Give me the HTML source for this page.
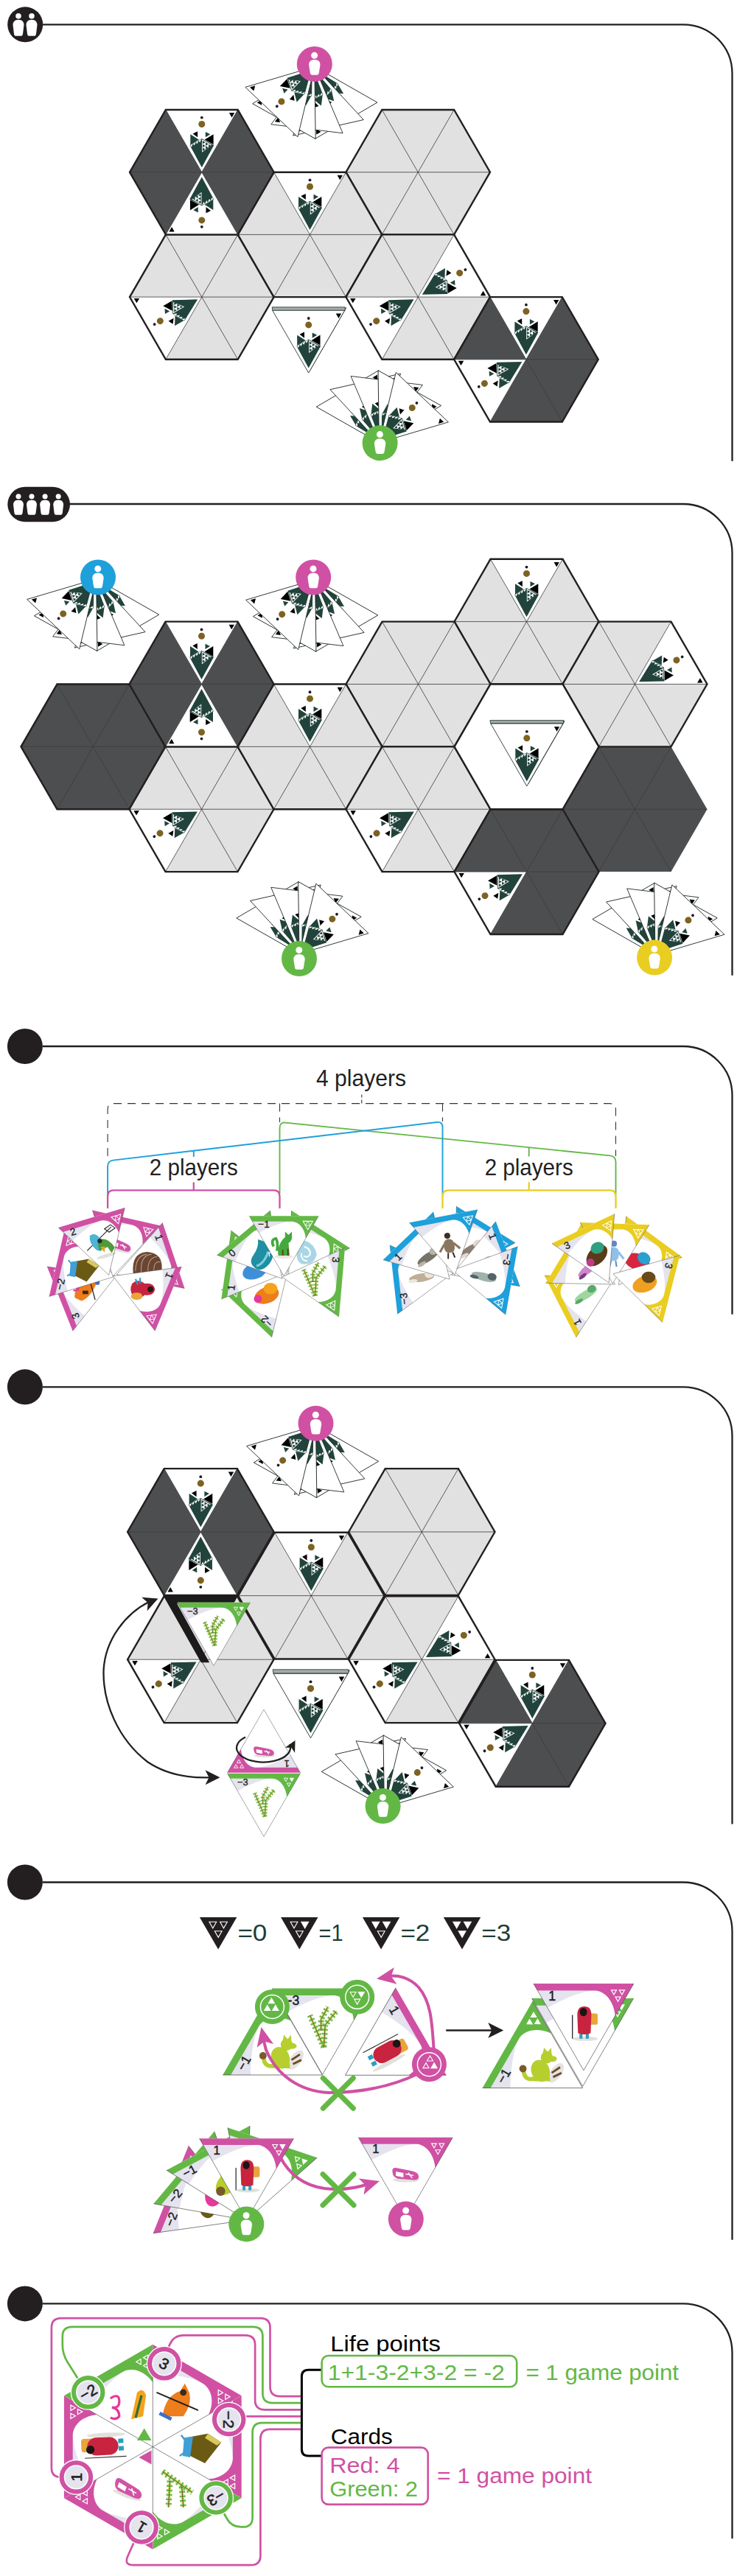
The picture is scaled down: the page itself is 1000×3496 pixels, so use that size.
<!DOCTYPE html>
<html><head><meta charset="utf-8"><title>Setup</title>
<style>html,body{margin:0;padding:0;background:#fff}body{width:1000px;height:3496px;overflow:hidden;font-family:"Liberation Sans",sans-serif}</style>
</head><body>
<svg width="1000" height="3496" viewBox="0 0 1000 3496" style="display:block;font-family:'Liberation Sans',sans-serif">
<defs>
<g id="cbp">
<circle cx="0" cy="-74.1" r="1.9" fill="#1b1b26"/>
<circle cx="0" cy="-65.2" r="4.5" fill="#7d6222"/>
<polygon points="-15.5,-51.4 -4,-44.1 -15.5,-37" fill="#21433b" />
<polygon points="5,-54.7 11.5,-51.4 5,-47.4" fill="#21433b" />
<polygon points="0,-45.6 16.5,-36.7 0,-6.5 -16.3,-36.7" fill="#21433b" />
<polygon points="-12.2,-52.3 -5.7,-55.5 -5.7,-47.4" fill="#000" />
<polygon points="3.8,-44.1 15.8,-51.5 15.8,-37.6" fill="#000" />
<polygon points="0.3,-44.6 13.4,-36.9 0.3,-27" fill="#fff" />
<polygon points="1.2,-42.8 4.8,-40.6 1.2,-38.4" fill="#21433b" />
<polygon points="1.2,-38 4.8,-35.8 1.2,-33.6" fill="#21433b" />
<polygon points="1.2,-33.2 4.8,-31 1.2,-28.8" fill="#21433b" />
<polygon points="5.2,-40.4 8.8,-38.2 5.2,-36" fill="#21433b" />
<polygon points="5.2,-35.6 8.8,-33.4 5.2,-31.2" fill="#21433b" />
<polygon points="9.2,-38 12.8,-35.8 9.2,-33.6" fill="#21433b" />
<polygon points="-15.6,-36.6 -11.8,-38.68 -14.1,-34.04" fill="#fff" />
<polygon points="-11.8,-38.68 -8,-40.75 -10.3,-36.11" fill="#fff" />
<polygon points="-8,-40.75 -4.2,-42.83 -6.5,-38.19" fill="#fff" />
<polygon points="-4.2,-42.83 -0.4,-44.9 -2.7,-40.26" fill="#fff" />
<polygon points="37.1,-80.7 44.4,-80.7 40.7,-74.2" fill="#000" />
</g>
<g id="cb"><polygon points="-49,-84.87 49,-84.87 0,0" fill="#fff" /><use href="#cbp"/></g>
<g id="cbs"><polygon points="-49,-84.87 49,-84.87 0,0" fill="#fff" stroke="#1f2925" stroke-width="0.85" stroke-linejoin="miter"/><use href="#cbp"/></g>
<g id="person" fill="#fff"><circle cx="-0.2" cy="-11.6" r="4.5"/><path d="M-3.6,-5.4 C-6,-4.6 -7.8,-2 -7.7,1 L-5.9,12.4 Q-5.6,14.8 -3.4,14.8 L3.4,14.8 Q5.6,14.8 5.9,12.4 L7.7,1 C7.8,-2 6,-4.6 3.6,-5.4 Q0,-6.4 -3.6,-5.4 Z"/></g>
<g id="sperson" fill="#fff"><circle cx="0" cy="-11.6" r="3.8"/><path d="M-3.4,-6 C-5.8,-5.2 -7.6,-2.6 -7.5,0.4 L-6,12.6 Q-5.7,15.4 -3.4,15.4 L3.4,15.4 Q5.7,15.4 6,12.6 L7.5,0.4 C7.6,-2.6 5.8,-5.2 3.4,-6 Q0,-7 -3.4,-6 Z"/></g>
</defs>
<path d="M58,33.3 H927 A66.5,66.5 0 0 1 993.5,99.8 V625.8" fill="none" stroke="#231f20" stroke-width="2.3"/>
<circle cx="34.2" cy="33.3" r="24" fill="#231f20"/>
<use href="#sperson" transform="translate(25,33.3)"/>
<use href="#sperson" transform="translate(43,33.3)"/>
<path d="M94,684 H927 A66.5,66.5 0 0 1 993.5,750.5 V1323.8" fill="none" stroke="#231f20" stroke-width="2.3"/>
<rect x="10.3" y="660.8" width="84.7" height="47.4" rx="23.7" fill="#231f20"/>
<use href="#sperson" transform="translate(25,684.5) scale(0.93)"/>
<use href="#sperson" transform="translate(43,684.5) scale(0.93)"/>
<use href="#sperson" transform="translate(61.1,684.5) scale(0.93)"/>
<use href="#sperson" transform="translate(79.2,684.5) scale(0.93)"/>
<path d="M58,1420 H927 A66.5,66.5 0 0 1 993.5,1486.5 V1783.7" fill="none" stroke="#231f20" stroke-width="2.3"/>
<circle cx="33.9" cy="1420" r="24" fill="#231f20"/>
<path d="M58,1882.3 H927 A66.5,66.5 0 0 1 993.5,1948.8 V2475.6" fill="none" stroke="#231f20" stroke-width="2.3"/>
<circle cx="33.9" cy="1882.3" r="24" fill="#231f20"/>
<path d="M58,2554.5 H927 A66.5,66.5 0 0 1 993.5,2621 V3039.7" fill="none" stroke="#231f20" stroke-width="2.3"/>
<circle cx="33.9" cy="2554.5" r="24" fill="#231f20"/>
<path d="M58,3126.4 H927 A66.5,66.5 0 0 1 993.5,3192.9 V3445.3" fill="none" stroke="#231f20" stroke-width="2.3"/>
<circle cx="33.9" cy="3126.4" r="24" fill="#231f20"/>
<g id="s1">
<use href="#cbs" transform="translate(426.8,90.5) rotate(149.7)"/>
<use href="#cbs" transform="translate(426.8,90.5) rotate(167.3)"/>
<use href="#cbs" transform="translate(426.8,90.5) rotate(187)"/>
<use href="#cbs" transform="translate(426.8,90.5) rotate(209.2)"/>
<use href="#cbs" transform="translate(426.8,90.5) rotate(223.5)"/>
<circle cx="426.8" cy="86.9" r="24" fill="#d051a3"/><use href="#person" transform="translate(426.8,86.9)"/>
<polygon points="665,233.7 616.1,318.4 518.3,318.4 469.4,233.7 518.3,149 616.1,149" fill="#e1e1e1" />
<path d="M665,233.7L469.4,233.7M616.1,318.4L518.3,149M518.3,318.4L616.1,149" stroke="#222" stroke-width="0.7" fill="none"/>
<polygon points="665,233.7 616.1,318.4 518.3,318.4 469.4,233.7 518.3,149 616.1,149" fill="none" stroke="#231f20" stroke-width="2.4" stroke-linejoin="miter"/>
<polygon points="371.6,403.09 322.7,487.79 224.9,487.79 176,403.09 224.9,318.4 322.7,318.4" fill="#e1e1e1" />
<use href="#cb" transform="translate(273.8,403.09) rotate(240) scale(1)"/>
<path d="M371.6,403.09L176,403.09M322.7,487.79L224.9,318.4M224.9,487.79L322.7,318.4" stroke="#222" stroke-width="0.7" fill="none"/>
<polygon points="371.6,403.09 322.7,487.79 224.9,487.79 176,403.09 224.9,318.4 322.7,318.4" fill="none" stroke="#231f20" stroke-width="2.4" stroke-linejoin="miter"/>
<polygon points="518.3,318.4 469.4,403.09 371.6,403.09 322.7,318.4 371.6,233.7 469.4,233.7" fill="#e1e1e1" />
<use href="#cb" transform="translate(420.5,318.4) rotate(0) scale(1)"/>
<path d="M518.3,318.4L322.7,318.4M469.4,403.09L371.6,233.7M371.6,403.09L469.4,233.7" stroke="#222" stroke-width="0.7" fill="none"/>
<polygon points="518.3,318.4 469.4,403.09 371.6,403.09 322.7,318.4 371.6,233.7 469.4,233.7" fill="none" stroke="#231f20" stroke-width="2.4" stroke-linejoin="miter"/>
<polygon points="665,403.09 616.1,487.79 518.3,487.79 469.4,403.09 518.3,318.4 616.1,318.4" fill="#e1e1e1" />
<use href="#cb" transform="translate(567.2,403.09) rotate(60) scale(1)"/>
<use href="#cb" transform="translate(567.2,403.09) rotate(240) scale(1)"/>
<path d="M665,403.09L469.4,403.09M616.1,487.79L518.3,318.4M518.3,487.79L616.1,318.4" stroke="#222" stroke-width="0.7" fill="none"/>
<polygon points="665,403.09 616.1,487.79 518.3,487.79 469.4,403.09 518.3,318.4 616.1,318.4" fill="none" stroke="#231f20" stroke-width="2.4" stroke-linejoin="miter"/>
<polygon points="811.7,487.79 762.8,572.49 665,572.49 616.1,487.79 665,403.09 762.8,403.09" fill="#4d4e50" />
<use href="#cb" transform="translate(713.9,487.79) rotate(0) scale(1)"/>
<use href="#cb" transform="translate(713.9,487.79) rotate(240) scale(1)"/>
<path d="M811.7,487.79L616.1,487.79M762.8,572.49L665,403.09M665,572.49L762.8,403.09" stroke="#3b3c3e" stroke-width="0.8" fill="none"/>
<polygon points="811.7,487.79 762.8,572.49 665,572.49 616.1,487.79 665,403.09 762.8,403.09" fill="none" stroke="#231f20" stroke-width="2.4" stroke-linejoin="miter"/>
<polygon points="371.6,233.7 322.7,318.4 224.9,318.4 176,233.7 224.9,149 322.7,149" fill="#4d4e50" />
<use href="#cb" transform="translate(273.8,233.7) rotate(0) scale(1)"/>
<use href="#cb" transform="translate(273.8,233.7) rotate(180) scale(1)"/>
<path d="M371.6,233.7L176,233.7M322.7,318.4L224.9,149M224.9,318.4L322.7,149" stroke="#3b3c3e" stroke-width="0.8" fill="none"/>
<polygon points="371.6,233.7 322.7,318.4 224.9,318.4 176,233.7 224.9,149 322.7,149" fill="none" stroke="#231f20" stroke-width="2.4" stroke-linejoin="miter"/>
<polygon points="371.9,417.8 469.7,417.8 420.8,502.32" fill="#fff" stroke="#26352f" stroke-width="0.9"/>
<polygon points="369.1,416.8 468.1,416.8 468.1,421.6 369.9,421.6" fill="#a3aba6" stroke="#26352f" stroke-width="0.8" stroke-linejoin="round"/>
<use href="#cbs" transform="translate(418.7,506.12) scale(1)"/>
<use href="#cbs" transform="translate(514.4,600.7) rotate(-30.3)"/>
<use href="#cbs" transform="translate(514.4,600.7) rotate(-12.7)"/>
<use href="#cbs" transform="translate(514.4,600.7) rotate(7)"/>
<use href="#cbs" transform="translate(514.4,600.7) rotate(29.2)"/>
<use href="#cbs" transform="translate(514.4,600.7) rotate(43.5)"/>
<circle cx="515.6" cy="601.2" r="24" fill="#63b845"/><use href="#person" transform="translate(515.6,601.2)"/>
</g>
<g id="s2">
<use href="#cbs" transform="translate(130.6,785.6) rotate(149.7)"/>
<use href="#cbs" transform="translate(130.6,785.6) rotate(167.3)"/>
<use href="#cbs" transform="translate(130.6,785.6) rotate(187)"/>
<use href="#cbs" transform="translate(130.6,785.6) rotate(209.2)"/>
<use href="#cbs" transform="translate(130.6,785.6) rotate(223.5)"/>
<circle cx="133" cy="783.5" r="24" fill="#1ea0db"/><use href="#person" transform="translate(133,783.5)"/>
<use href="#cbs" transform="translate(427.6,786.4) rotate(149.7)"/>
<use href="#cbs" transform="translate(427.6,786.4) rotate(167.3)"/>
<use href="#cbs" transform="translate(427.6,786.4) rotate(187)"/>
<use href="#cbs" transform="translate(427.6,786.4) rotate(209.2)"/>
<use href="#cbs" transform="translate(427.6,786.4) rotate(223.5)"/>
<circle cx="425.2" cy="783.5" r="24" fill="#d051a3"/><use href="#person" transform="translate(425.2,783.5)"/>
<polygon points="959.5,1098.24 910.5,1183.11 812.5,1183.11 763.5,1098.24 812.5,1013.37 910.5,1013.37" fill="#4d4e50" />
<path d="M959.5,1098.24L763.5,1098.24M910.5,1183.11L812.5,1013.37M812.5,1183.11L910.5,1013.37" stroke="#3b3c3e" stroke-width="0.8" fill="none"/>
<polygon points="224.5,1013.37 175.5,1098.24 77.5,1098.24 28.5,1013.37 77.5,928.5 175.5,928.5" fill="#4d4e50" />
<path d="M224.5,1013.37L28.5,1013.37M175.5,1098.24L77.5,928.5M77.5,1098.24L175.5,928.5" stroke="#3b3c3e" stroke-width="0.8" fill="none"/>
<polygon points="224.5,1013.37 175.5,1098.24 77.5,1098.24 28.5,1013.37 77.5,928.5 175.5,928.5" fill="none" stroke="#231f20" stroke-width="2.4" stroke-linejoin="miter"/>
<polygon points="812.5,843.63 763.5,928.5 665.5,928.5 616.5,843.63 665.5,758.76 763.5,758.76" fill="#e1e1e1" />
<use href="#cb" transform="translate(714.5,843.63) rotate(0) scale(1)"/>
<path d="M812.5,843.63L616.5,843.63M763.5,928.5L665.5,758.76M665.5,928.5L763.5,758.76" stroke="#222" stroke-width="0.7" fill="none"/>
<polygon points="812.5,843.63 763.5,928.5 665.5,928.5 616.5,843.63 665.5,758.76 763.5,758.76" fill="none" stroke="#231f20" stroke-width="2.4" stroke-linejoin="miter"/>
<polygon points="959.5,928.5 910.5,1013.37 812.5,1013.37 763.5,928.5 812.5,843.63 910.5,843.63" fill="#e1e1e1" />
<use href="#cb" transform="translate(861.5,928.5) rotate(60) scale(1)"/>
<path d="M959.5,928.5L763.5,928.5M910.5,1013.37L812.5,843.63M812.5,1013.37L910.5,843.63" stroke="#222" stroke-width="0.7" fill="none"/>
<polygon points="959.5,928.5 910.5,1013.37 812.5,1013.37 763.5,928.5 812.5,843.63 910.5,843.63" fill="none" stroke="#231f20" stroke-width="2.4" stroke-linejoin="miter"/>
<polygon points="665.5,928.5 616.5,1013.37 518.5,1013.37 469.5,928.5 518.5,843.63 616.5,843.63" fill="#e1e1e1" />
<path d="M665.5,928.5L469.5,928.5M616.5,1013.37L518.5,843.63M518.5,1013.37L616.5,843.63" stroke="#222" stroke-width="0.7" fill="none"/>
<polygon points="665.5,928.5 616.5,1013.37 518.5,1013.37 469.5,928.5 518.5,843.63 616.5,843.63" fill="none" stroke="#231f20" stroke-width="2.4" stroke-linejoin="miter"/>
<polygon points="371.5,1098.24 322.5,1183.11 224.5,1183.11 175.5,1098.24 224.5,1013.37 322.5,1013.37" fill="#e1e1e1" />
<use href="#cb" transform="translate(273.5,1098.24) rotate(240) scale(1)"/>
<path d="M371.5,1098.24L175.5,1098.24M322.5,1183.11L224.5,1013.37M224.5,1183.11L322.5,1013.37" stroke="#222" stroke-width="0.7" fill="none"/>
<polygon points="371.5,1098.24 322.5,1183.11 224.5,1183.11 175.5,1098.24 224.5,1013.37 322.5,1013.37" fill="none" stroke="#231f20" stroke-width="2.4" stroke-linejoin="miter"/>
<polygon points="518.5,1013.37 469.5,1098.24 371.5,1098.24 322.5,1013.37 371.5,928.5 469.5,928.5" fill="#e1e1e1" />
<use href="#cb" transform="translate(420.5,1013.37) rotate(0) scale(1)"/>
<path d="M518.5,1013.37L322.5,1013.37M469.5,1098.24L371.5,928.5M371.5,1098.24L469.5,928.5" stroke="#222" stroke-width="0.7" fill="none"/>
<polygon points="518.5,1013.37 469.5,1098.24 371.5,1098.24 322.5,1013.37 371.5,928.5 469.5,928.5" fill="none" stroke="#231f20" stroke-width="2.4" stroke-linejoin="miter"/>
<polygon points="665.5,1098.24 616.5,1183.11 518.5,1183.11 469.5,1098.24 518.5,1013.37 616.5,1013.37" fill="#e1e1e1" />
<use href="#cb" transform="translate(567.5,1098.24) rotate(240) scale(1)"/>
<path d="M665.5,1098.24L469.5,1098.24M616.5,1183.11L518.5,1013.37M518.5,1183.11L616.5,1013.37" stroke="#222" stroke-width="0.7" fill="none"/>
<polygon points="665.5,1098.24 616.5,1183.11 518.5,1183.11 469.5,1098.24 518.5,1013.37 616.5,1013.37" fill="none" stroke="#231f20" stroke-width="2.4" stroke-linejoin="miter"/>
<polygon points="812.5,1183.11 763.5,1267.98 665.5,1267.98 616.5,1183.11 665.5,1098.24 763.5,1098.24" fill="#4d4e50" />
<use href="#cb" transform="translate(714.5,1183.11) rotate(240) scale(1)"/>
<path d="M812.5,1183.11L616.5,1183.11M763.5,1267.98L665.5,1098.24M665.5,1267.98L763.5,1098.24" stroke="#3b3c3e" stroke-width="0.8" fill="none"/>
<polygon points="812.5,1183.11 763.5,1267.98 665.5,1267.98 616.5,1183.11 665.5,1098.24 763.5,1098.24" fill="none" stroke="#231f20" stroke-width="2.4" stroke-linejoin="miter"/>
<polygon points="371.5,928.5 322.5,1013.37 224.5,1013.37 175.5,928.5 224.5,843.63 322.5,843.63" fill="#4d4e50" />
<use href="#cb" transform="translate(273.5,928.5) rotate(0) scale(1)"/>
<use href="#cb" transform="translate(273.5,928.5) rotate(180) scale(1)"/>
<path d="M371.5,928.5L175.5,928.5M322.5,1013.37L224.5,843.63M224.5,1013.37L322.5,843.63" stroke="#3b3c3e" stroke-width="0.8" fill="none"/>
<polygon points="371.5,928.5 322.5,1013.37 224.5,1013.37 175.5,928.5 224.5,843.63 322.5,843.63" fill="none" stroke="#231f20" stroke-width="2.4" stroke-linejoin="miter"/>
<polygon points="812.5,1013.37 763.5,1098.24 665.5,1098.24 616.5,1013.37 665.5,928.5 763.5,928.5" fill="#fff" />
<polygon points="812.5,1013.37 763.5,1098.24 665.5,1098.24 616.5,1013.37 665.5,928.5 763.5,928.5" fill="none" stroke="#231f20" stroke-width="2.4" stroke-linejoin="miter"/>
<polygon points="667.65,978.57 766.15,978.57 716.9,1063.7" fill="#fff" stroke="#26352f" stroke-width="0.9"/>
<polygon points="664.85,977.57 764.55,977.57 764.55,981.77 665.65,981.77" fill="#a3aba6" stroke="#26352f" stroke-width="0.8" stroke-linejoin="round"/>
<use href="#cbs" transform="translate(714.8,1066.9) scale(1)"/>
<use href="#cbs" transform="translate(406,1294.5) rotate(-30.3)"/>
<use href="#cbs" transform="translate(406,1294.5) rotate(-12.7)"/>
<use href="#cbs" transform="translate(406,1294.5) rotate(7)"/>
<use href="#cbs" transform="translate(406,1294.5) rotate(29.2)"/>
<use href="#cbs" transform="translate(406,1294.5) rotate(43.5)"/>
<circle cx="406" cy="1301" r="24" fill="#63b845"/><use href="#person" transform="translate(406,1301)"/>
<use href="#cbs" transform="translate(889,1296.1) rotate(-30.3)"/>
<use href="#cbs" transform="translate(889,1296.1) rotate(-12.7)"/>
<use href="#cbs" transform="translate(889,1296.1) rotate(7)"/>
<use href="#cbs" transform="translate(889,1296.1) rotate(29.2)"/>
<use href="#cbs" transform="translate(889,1296.1) rotate(43.5)"/>
<circle cx="888.1" cy="1299.6" r="24" fill="#e9cd20"/><use href="#person" transform="translate(888.1,1299.6)"/>
</g>
<g id="s3">
<path d="M146.1,1569 V1505.6 Q146.1,1497.6 154.1,1497.6 H827.5 Q835.5,1497.6 835.5,1505.6 V1569 M379.5,1497.6 V1523 M600.5,1497.6 V1522" fill="none" stroke="#333" stroke-width="1.1" stroke-dasharray="11 8"/>
<path d="M490.8,1497.6 V1485.5" stroke="#333" stroke-width="1.1" stroke-dasharray="5 3"/>
<path d="M379.5,1620 V1531 Q379.5,1523 387,1523.6 L828,1568.4 Q835.5,1569.3 835.5,1577 V1622 M717.7,1557.2 V1569.5" fill="none" stroke="#63b845" stroke-width="1.9"/>
<path d="M146.1,1626 V1583 Q146.1,1575.6 153.5,1574.6 L593,1523 Q600.5,1522 600.5,1530 V1622 M262.8,1561.4 V1570" fill="none" stroke="#1ea0db" stroke-width="1.9"/>
<path d="M146.1,1640 V1623.5 Q146.1,1615.4 154.1,1615.4 H371.5 Q379.5,1615.4 379.5,1623.5 V1640 M262.8,1615.4 V1604.5" fill="none" stroke="#d051a3" stroke-width="2.3"/>
<path d="M600.5,1640 V1623.5 Q600.5,1615.4 608.5,1615.4 H827.5 Q835.5,1615.4 835.5,1623.5 V1640 M717.7,1615.4 V1604.5" fill="none" stroke="#e9cd20" stroke-width="2.3"/>
<text x="490" y="1474.3" font-size="30.5" text-anchor="middle" fill="#231f20" textLength="122" lengthAdjust="spacingAndGlyphs">4 players</text>
<text x="262.8" y="1594.8" font-size="30.5" text-anchor="middle" fill="#231f20" textLength="120" lengthAdjust="spacingAndGlyphs">2 players</text>
<text x="717.7" y="1594.8" font-size="30.5" text-anchor="middle" fill="#231f20" textLength="120" lengthAdjust="spacingAndGlyphs">2 players</text>
<g transform="translate(156.87,1732.54) rotate(-111.7) scale(0.94)"><polygon points="-50,-86.6 50,-86.6 0,0" fill="#fff" /><path d="M-45.38,-78.6 L-36.1,-62.5 Q-5,-78.6 12,-78.6 Z" fill="#e4e3ee"/><g transform="translate(0,-46) rotate(111.7) scale(1.65)"><path d="M-10,8 Q-10,-4 0,-8 Q8,-10 9,-4 Q4,8 -4,11 Z" fill="#ee7d1c"/><path d="M-12,-2 L-6,0 M-11,2 L-6,1" stroke="#e6399b" stroke-width="1.6"/><path d="M2,-12 L8,10" stroke="#222" stroke-width="0.8"/><circle cx="10" cy="-5" r="2" fill="#3f6fc8"/><rect x="-3" y="2" width="5" height="3" fill="#3a2a1a"/></g><path d="M-50,-86.6 L50,-86.6 L31.5,-54.6 C30,-68.6 22,-77.6 12,-78.6 L-45.38,-78.6 Z" fill="#d051a3"/><polygon points="27.5,-79.1 41.5,-79.1 34.5,-67" fill="none" stroke="#fff" stroke-width="1.1"/><polygon points="34.5,-79.1 38,-73.05 31,-73.05" fill="none" stroke="#fff" stroke-width="1"/><path d="M-50,-86.6 L0,0 L50,-86.6" fill="none" stroke="#3a3a3a" stroke-width="0.45"/><text x="-31.5" y="-69.8" font-size="14.5" text-anchor="middle" fill="#231f20" stroke="#231f20" stroke-width="0.35">3</text></g><g transform="translate(156.57,1732.07) rotate(-77) scale(0.94)"><polygon points="-50,-86.6 50,-86.6 0,0" fill="#fff" /><path d="M-45.38,-78.6 L-36.1,-62.5 Q-5,-78.6 12,-78.6 Z" fill="#e4e3ee"/><g transform="translate(0,-46) rotate(77) scale(1.65)"><path d="M-12,-6 L4,-9 L13,-3 L2,11 L-10,5 Z" fill="#6b5a14"/><path d="M-12,-6 L-13,6 L-8,7 L-6,-7 Z" fill="#3f9fd8"/><path d="M4,-9 L13,-3 L10,-1 L2,-6 Z" fill="#d9c85a"/><path d="M-14,-8 L-11,-4 M-15,6 L-12,4" stroke="#3f9fd8" stroke-width="1.2"/></g><path d="M-50,-86.6 L50,-86.6 L31.5,-54.6 C30,-68.6 22,-77.6 12,-78.6 L-45.38,-78.6 Z" fill="#d051a3"/><polygon points="27.5,-79.1 41.5,-79.1 34.5,-67" fill="none" stroke="#fff" stroke-width="1.1"/><polygon points="34.5,-79.1 38,-73.05 31,-73.05" fill="none" stroke="#fff" stroke-width="1"/><path d="M-50,-86.6 L0,0 L50,-86.6" fill="none" stroke="#3a3a3a" stroke-width="0.45"/><text x="-29" y="-69.8" font-size="14.5" text-anchor="middle" fill="#231f20" stroke="#231f20" stroke-width="0.35">−2</text></g><g transform="translate(153.09,1732.22) rotate(12.9) scale(0.94)"><polygon points="-50,-86.6 50,-86.6 0,0" fill="#fff" /><path d="M-45.38,-78.6 L-36.1,-62.5 Q-5,-78.6 12,-78.6 Z" fill="#e4e3ee"/><g transform="translate(0,-46) rotate(0) scale(1.65)"><ellipse cx="0.5" cy="4" rx="10" ry="1.6" fill="#e2e0dc"/><path d="M-10,-3 Q-10,-6 -6,-5 L4,-3 Q10,-2 10,1.5 Q10,4 6,4 L-6,3 Q-10,2 -10,-3 Z" fill="#d153a5"/><path d="M-7,-2 L-2,-1 L-2,1.5 L-7,0.5 Z M0,-0.5 L6,0.5 M2,-1.5 L5,2.5" fill="#fff" stroke="#fff" stroke-width="0.8"/></g><path d="M-50,-86.6 L50,-86.6 L31.5,-54.6 C30,-68.6 22,-77.6 12,-78.6 L-45.38,-78.6 Z" fill="#d051a3"/><polygon points="27.5,-79.1 41.5,-79.1 34.5,-67" fill="none" stroke="#fff" stroke-width="1.1"/><polygon points="34.5,-79.1 38,-73.05 31,-73.05" fill="none" stroke="#fff" stroke-width="1"/><path d="M-50,-86.6 L0,0 L50,-86.6" fill="none" stroke="#3a3a3a" stroke-width="0.45"/></g><g transform="translate(147.67,1730.51) rotate(-16.7) scale(0.94)"><polygon points="-50,-86.6 50,-86.6 0,0" fill="#fff" /><path d="M-45.38,-78.6 L-36.1,-62.5 Q-5,-78.6 12,-78.6 Z" fill="#e4e3ee"/><g transform="translate(0,-46) rotate(0) scale(1.65)"><path d="M-12,2 L14,-12 M8,-12 L14,-14 L17,-10 L11,-8 Z" stroke="#222" stroke-width="0.7" fill="none"/><path d="M-6,-10 Q-9,-4 -4,4 L0,6 L2,-4 Q0,-12 -6,-10 Z" fill="#4db4d6"/><path d="M-1,-4 Q8,-6 12,6 L8,10 L6,4 L-2,5 Z" fill="#4e9a3c"/><path d="M0,2 L4,3 L2,8 Z" fill="#e8a020"/><circle cx="1" cy="-3" r="2" fill="#1c2b2b"/><ellipse cx="3" cy="11" rx="9" ry="1.6" fill="#e2e0dc"/></g><path d="M-50,-86.6 L50,-86.6 L31.5,-54.6 C30,-68.6 22,-77.6 12,-78.6 L-45.38,-78.6 Z" fill="#d051a3"/><polygon points="27.5,-79.1 41.5,-79.1 34.5,-67" fill="none" stroke="#fff" stroke-width="1.1"/><polygon points="34.5,-79.1 38,-73.05 31,-73.05" fill="none" stroke="#fff" stroke-width="1"/><path d="M-50,-86.6 L0,0 L50,-86.6" fill="none" stroke="#3a3a3a" stroke-width="0.45"/><text x="-31.5" y="-69.8" font-size="14.5" text-anchor="middle" fill="#231f20" stroke="#231f20" stroke-width="0.35">2</text></g><g transform="translate(158.38,1729.78) rotate(71.5) scale(0.94)"><polygon points="-50,-86.6 50,-86.6 0,0" fill="#fff" /><path d="M-45.38,-78.6 L-36.1,-62.5 Q-5,-78.6 12,-78.6 Z" fill="#e4e3ee"/><g transform="translate(0,-46) rotate(-71.5) scale(1.65)"><path d="M-12,8 Q-14,-10 0,-11 Q14,-10 13,4 Q8,10 -12,8 Z" fill="#6a4632"/><path d="M-10,6 Q-10,-8 0,-9 M-5,7 Q-6,-8 4,-9 M1,7 Q0,-6 9,-7 M6,6 Q6,-4 12,-2" stroke="#b89a86" stroke-width="0.7" fill="none"/></g><path d="M-50,-86.6 L50,-86.6 L31.5,-54.6 C30,-68.6 22,-77.6 12,-78.6 L-45.38,-78.6 Z" fill="#d051a3"/><polygon points="27.5,-79.1 41.5,-79.1 34.5,-67" fill="none" stroke="#fff" stroke-width="1.1"/><polygon points="34.5,-79.1 38,-73.05 31,-73.05" fill="none" stroke="#fff" stroke-width="1"/><path d="M-50,-86.6 L0,0 L50,-86.6" fill="none" stroke="#3a3a3a" stroke-width="0.45"/><text x="-31.5" y="-69.8" font-size="14.5" text-anchor="middle" fill="#231f20" stroke="#231f20" stroke-width="0.35">1</text></g><g transform="translate(153.31,1731.73) rotate(112.5) scale(0.94)"><polygon points="-50,-86.6 50,-86.6 0,0" fill="#fff" /><path d="M-45.38,-78.6 L-36.1,-62.5 Q-5,-78.6 12,-78.6 Z" fill="#e4e3ee"/><g transform="translate(0,-46) rotate(-112.5) scale(1.65)"><path d="M-9,-4 Q-4,-9 2,-4 Q10,-5 11,1 Q10,7 2,6 Q-2,10 -8,7 Q-12,2 -9,-4 Z" fill="#c8243f"/><ellipse cx="-5" cy="7" rx="5" ry="3.2" fill="#e9a43b"/><circle cx="7" cy="1" r="2.6" fill="#2a1a1a"/><path d="M-6,-8 L-4,-3 M-2,-9 L-2,-4" stroke="#2a9fc0" stroke-width="1.4"/></g><path d="M-50,-86.6 L50,-86.6 L31.5,-54.6 C30,-68.6 22,-77.6 12,-78.6 L-45.38,-78.6 Z" fill="#d051a3"/><polygon points="27.5,-79.1 41.5,-79.1 34.5,-67" fill="none" stroke="#fff" stroke-width="1.1"/><polygon points="34.5,-79.1 38,-73.05 31,-73.05" fill="none" stroke="#fff" stroke-width="1"/><path d="M-50,-86.6 L0,0 L50,-86.6" fill="none" stroke="#3a3a3a" stroke-width="0.45"/><text x="-31.5" y="-69.8" font-size="14.5" text-anchor="middle" fill="#231f20" stroke="#231f20" stroke-width="0.35">1</text></g>
<g transform="translate(390.56,1723.61) rotate(-136.5) scale(0.94)"><polygon points="-50,-86.6 50,-86.6 0,0" fill="#fff" /><path d="M-45.38,-78.6 L-36.1,-62.5 Q-5,-78.6 12,-78.6 Z" fill="#e4e3ee"/><g transform="translate(0,-46) rotate(136.5) scale(1.65)"><ellipse cx="0" cy="2" rx="11" ry="7" fill="#ee7d1c" transform="rotate(-20)"/><ellipse cx="4" cy="-4" rx="6" ry="5" fill="#f5a21c"/><circle cx="-7" cy="5" r="3.5" fill="#e6399b"/></g><path d="M-50,-86.6 L50,-86.6 L31.5,-54.6 C30,-68.6 22,-77.6 12,-78.6 L-45.38,-78.6 Z" fill="#63b845"/><polygon points="27.5,-79.1 41.5,-79.1 34.5,-67" fill="none" stroke="#fff" stroke-width="1.1"/><polygon points="34.5,-79.1 38,-73.05 31,-73.05" fill="none" stroke="#fff" stroke-width="1"/><path d="M-50,-86.6 L0,0 L50,-86.6" fill="none" stroke="#3a3a3a" stroke-width="0.45"/><text x="-29" y="-69.8" font-size="14.5" text-anchor="middle" fill="#231f20" stroke="#231f20" stroke-width="0.35">−2</text></g><g transform="translate(387.52,1727.9) rotate(-82) scale(0.94)"><polygon points="-50,-86.6 50,-86.6 0,0" fill="#fff" /><path d="M-45.38,-78.6 L-36.1,-62.5 Q-5,-78.6 12,-78.6 Z" fill="#e4e3ee"/><g transform="translate(0,-46) rotate(82) scale(1.65)"><ellipse cx="0" cy="2" rx="11" ry="7" fill="#3f8fd8" transform="rotate(-20)"/><ellipse cx="4" cy="-4" rx="6" ry="5" fill="#7fc4e8"/></g><path d="M-50,-86.6 L50,-86.6 L31.5,-54.6 C30,-68.6 22,-77.6 12,-78.6 L-45.38,-78.6 Z" fill="#63b845"/><polygon points="27.5,-79.1 41.5,-79.1 34.5,-67" fill="none" stroke="#fff" stroke-width="1.1"/><polygon points="34.5,-79.1 38,-73.05 31,-73.05" fill="none" stroke="#fff" stroke-width="1"/><path d="M-50,-86.6 L0,0 L50,-86.6" fill="none" stroke="#3a3a3a" stroke-width="0.45"/><text x="-31.5" y="-69.8" font-size="14.5" text-anchor="middle" fill="#231f20" stroke="#231f20" stroke-width="0.35">1</text></g><g transform="translate(382.7,1735.32) rotate(-40) scale(0.94)"><polygon points="-50,-86.6 50,-86.6 0,0" fill="#fff" /><path d="M-45.38,-78.6 L-36.1,-62.5 Q-5,-78.6 12,-78.6 Z" fill="#e4e3ee"/><g transform="translate(0,-46) rotate(0) scale(1.65)"><path d="M-12,6 Q-14,-2 -6,-4 Q2,-6 6,-12 Q12,-4 10,4 Q4,12 -6,11 Q-11,10 -12,6 Z" fill="#1f8fa3"/><path d="M-10,5 Q-4,8 6,2" stroke="#7fd0dc" stroke-width="2" fill="none"/><path d="M4,6 L6,3 L8,6 L10,3" stroke="#fff" stroke-width="0.8" fill="none"/></g><path d="M-50,-86.6 L50,-86.6 L31.5,-54.6 C30,-68.6 22,-77.6 12,-78.6 L-45.38,-78.6 Z" fill="#63b845"/><polygon points="27.5,-79.1 41.5,-79.1 34.5,-67" fill="none" stroke="#fff" stroke-width="1.1"/><polygon points="34.5,-79.1 38,-73.05 31,-73.05" fill="none" stroke="#fff" stroke-width="1"/><path d="M-50,-86.6 L0,0 L50,-86.6" fill="none" stroke="#3a3a3a" stroke-width="0.45"/><text x="-31.5" y="-69.8" font-size="14.5" text-anchor="middle" fill="#231f20" stroke="#231f20" stroke-width="0.35">0</text></g><g transform="translate(391.31,1737) rotate(32.6) scale(0.94)"><polygon points="-50,-86.6 50,-86.6 0,0" fill="#fff" /><path d="M-45.38,-78.6 L-36.1,-62.5 Q-5,-78.6 12,-78.6 Z" fill="#e4e3ee"/><g transform="translate(0,-46) rotate(0) scale(1.65)"><path d="M-9,-8 Q2,-12 9,-4 Q12,6 2,10 Q-8,10 -9,-8 Z" fill="#a9d6e6"/><path d="M-4,-4 Q2,-6 4,-1 Q4,3 0,3 M-3,2 Q0,8 5,5" stroke="#fff" stroke-width="1.2" fill="none"/></g><path d="M-50,-86.6 L50,-86.6 L31.5,-54.6 C30,-68.6 22,-77.6 12,-78.6 L-45.38,-78.6 Z" fill="#63b845"/><polygon points="27.5,-79.1 41.5,-79.1 34.5,-67" fill="none" stroke="#fff" stroke-width="1.1"/><polygon points="34.5,-79.1 38,-73.05 31,-73.05" fill="none" stroke="#fff" stroke-width="1"/><path d="M-50,-86.6 L0,0 L50,-86.6" fill="none" stroke="#3a3a3a" stroke-width="0.45"/></g><g transform="translate(382.92,1733.19) rotate(94.9) scale(0.94)"><polygon points="-50,-86.6 50,-86.6 0,0" fill="#fff" /><path d="M-45.38,-78.6 L-36.1,-62.5 Q-5,-78.6 12,-78.6 Z" fill="#e4e3ee"/><g transform="translate(0,-46) rotate(-94.9) scale(1.65)"><path d="M1,14 L-9,-9" stroke="#6dbb45" stroke-width="4.2" stroke-dasharray="1.3 1.7" fill="none"/><path d="M1,14 L-9,-9" stroke="#c9d84a" stroke-width="2" stroke-dasharray="1.3 1.7" stroke-dashoffset="1.5" fill="none"/><path d="M1,14 L-9,-9" stroke="#6a4a2a" stroke-width="0.5" fill="none"/><path d="M1,14 L2,-2 L10,-12" stroke="#6dbb45" stroke-width="4.2" stroke-dasharray="1.3 1.7" fill="none"/><path d="M1,14 L2,-2 L10,-12" stroke="#c9d84a" stroke-width="2" stroke-dasharray="1.3 1.7" stroke-dashoffset="1.5" fill="none"/><path d="M1,14 L2,-2 L10,-12" stroke="#6a4a2a" stroke-width="0.5" fill="none"/><path d="M-1,2 L-1,-6 L4,-15" stroke="#6dbb45" stroke-width="4.2" stroke-dasharray="1.3 1.7" fill="none"/><path d="M-1,2 L-1,-6 L4,-15" stroke="#c9d84a" stroke-width="2" stroke-dasharray="1.3 1.7" stroke-dashoffset="1.5" fill="none"/><path d="M-1,2 L-1,-6 L4,-15" stroke="#6a4a2a" stroke-width="0.5" fill="none"/></g><path d="M-50,-86.6 L50,-86.6 L31.5,-54.6 C30,-68.6 22,-77.6 12,-78.6 L-45.38,-78.6 Z" fill="#63b845"/><polygon points="27.5,-79.1 41.5,-79.1 34.5,-67" fill="none" stroke="#fff" stroke-width="1.1"/><polygon points="34.5,-79.1 38,-73.05 31,-73.05" fill="none" stroke="#fff" stroke-width="1"/><path d="M-50,-86.6 L0,0 L50,-86.6" fill="none" stroke="#3a3a3a" stroke-width="0.45"/><text x="-31.5" y="-69.8" font-size="14.5" text-anchor="middle" fill="#231f20" stroke="#231f20" stroke-width="0.35">3</text></g><g transform="translate(385.25,1731.74) rotate(0) scale(0.94)"><polygon points="-50,-86.6 50,-86.6 0,0" fill="#fff" /><path d="M-45.38,-78.6 L-36.1,-62.5 Q-5,-78.6 12,-78.6 Z" fill="#e4e3ee"/><g transform="translate(0,-46) rotate(0) scale(1.65)"><ellipse cx="0" cy="11" rx="8" ry="1.6" fill="#ece6e2"/><path d="M-9,2 Q-12,-4 -7,-5 Q-5,-2 -6,6" stroke="#44a83e" stroke-width="2.4" fill="none"/><path d="M-5,10 C-6,2 -2,-4 1,-6 L1,-11 L4,-8 L7,-11 L7,-5 Q6,-2 4,-1 L5,10 Z" fill="#44a83e"/><path d="M-1,10 L-1,5 M3.5,10 L3.5,4" stroke="#6a3a1a" stroke-width="1.2"/></g><path d="M-50,-86.6 L50,-86.6 L31.5,-54.6 C30,-68.6 22,-77.6 12,-78.6 L-45.38,-78.6 Z" fill="#63b845"/><polygon points="27.5,-79.1 41.5,-79.1 34.5,-67" fill="none" stroke="#fff" stroke-width="1.1"/><polygon points="34.5,-79.1 38,-73.05 31,-73.05" fill="none" stroke="#fff" stroke-width="1"/><path d="M-50,-86.6 L0,0 L50,-86.6" fill="none" stroke="#3a3a3a" stroke-width="0.45"/><text x="-29" y="-69.8" font-size="14.5" text-anchor="middle" fill="#231f20" stroke="#231f20" stroke-width="0.35">−1</text></g>
<g transform="translate(614.86,1727.52) rotate(-96.4) scale(0.94)"><polygon points="-50,-86.6 50,-86.6 0,0" fill="#fff" /><path d="M-45.38,-78.6 L-36.1,-62.5 Q-5,-78.6 12,-78.6 Z" fill="#e4e3ee"/><g transform="translate(0,-46) rotate(96.4) scale(1.65)"><g transform="rotate(-8)"><ellipse cx="0" cy="1" rx="11" ry="3.6" fill="#bfae98"/><ellipse cx="7" cy="-1" rx="4" ry="3.2" fill="#ece6da"/><ellipse cx="-8" cy="3" rx="4" ry="1.6" fill="#ece6da"/></g></g><path d="M-50,-86.6 L50,-86.6 L31.5,-54.6 C30,-68.6 22,-77.6 12,-78.6 L-45.38,-78.6 Z" fill="#1ea0db"/><polygon points="27.5,-79.1 41.5,-79.1 34.5,-67" fill="none" stroke="#fff" stroke-width="1.1"/><polygon points="34.5,-79.1 38,-73.05 31,-73.05" fill="none" stroke="#fff" stroke-width="1"/><path d="M-50,-86.6 L0,0 L50,-86.6" fill="none" stroke="#3a3a3a" stroke-width="0.45"/><text x="-29" y="-69.8" font-size="14.5" text-anchor="middle" fill="#231f20" stroke="#231f20" stroke-width="0.35">−3</text></g><g transform="translate(610.1,1736.12) rotate(-43.7) scale(0.94)"><polygon points="-50,-86.6 50,-86.6 0,0" fill="#fff" /><path d="M-45.38,-78.6 L-36.1,-62.5 Q-5,-78.6 12,-78.6 Z" fill="#e4e3ee"/><g transform="translate(0,-46) rotate(0) scale(1.65)"><g transform="rotate(10)"><ellipse cx="0" cy="1" rx="11" ry="3.6" fill="#77736a"/><ellipse cx="7" cy="-1" rx="4" ry="3.2" fill="#b9b4a8"/><ellipse cx="-8" cy="3" rx="4" ry="1.6" fill="#b9b4a8"/></g></g><path d="M-50,-86.6 L50,-86.6 L31.5,-54.6 C30,-68.6 22,-77.6 12,-78.6 L-45.38,-78.6 Z" fill="#1ea0db"/><polygon points="27.5,-79.1 41.5,-79.1 34.5,-67" fill="none" stroke="#fff" stroke-width="1.1"/><polygon points="34.5,-79.1 38,-73.05 31,-73.05" fill="none" stroke="#fff" stroke-width="1"/><path d="M-50,-86.6 L0,0 L50,-86.6" fill="none" stroke="#3a3a3a" stroke-width="0.45"/><text x="-31.5" y="-69.8" font-size="14.5" text-anchor="middle" fill="#231f20" stroke="#231f20" stroke-width="0.35">1</text></g><g transform="translate(616.27,1730.85) rotate(31.9) scale(0.94)"><polygon points="-50,-86.6 50,-86.6 0,0" fill="#fff" /><path d="M-45.38,-78.6 L-36.1,-62.5 Q-5,-78.6 12,-78.6 Z" fill="#e4e3ee"/><g transform="translate(0,-46) rotate(0) scale(1.65)"><g transform="rotate(-60)"><ellipse cx="0" cy="1" rx="11" ry="3.6" fill="#8b7e72"/><ellipse cx="7" cy="-1" rx="4" ry="3.2" fill="#e0dad0"/><ellipse cx="-8" cy="3" rx="4" ry="1.6" fill="#e0dad0"/></g></g><path d="M-50,-86.6 L50,-86.6 L31.5,-54.6 C30,-68.6 22,-77.6 12,-78.6 L-45.38,-78.6 Z" fill="#1ea0db"/><polygon points="27.5,-79.1 41.5,-79.1 34.5,-67" fill="none" stroke="#fff" stroke-width="1.1"/><polygon points="34.5,-79.1 38,-73.05 31,-73.05" fill="none" stroke="#fff" stroke-width="1"/><path d="M-50,-86.6 L0,0 L50,-86.6" fill="none" stroke="#3a3a3a" stroke-width="0.45"/></g><g transform="translate(612.99,1730.22) rotate(69.5) scale(0.94)"><polygon points="-50,-86.6 50,-86.6 0,0" fill="#fff" /><path d="M-45.38,-78.6 L-36.1,-62.5 Q-5,-78.6 12,-78.6 Z" fill="#e4e3ee"/><g transform="translate(0,-46) rotate(-69.5) scale(1.65)"><g transform="rotate(-20)"><ellipse cx="0" cy="1" rx="11" ry="3.6" fill="#a8673f"/><ellipse cx="7" cy="-1" rx="4" ry="3.2" fill="#d9b9a0"/><ellipse cx="-8" cy="3" rx="4" ry="1.6" fill="#d9b9a0"/></g></g><path d="M-50,-86.6 L50,-86.6 L31.5,-54.6 C30,-68.6 22,-77.6 12,-78.6 L-45.38,-78.6 Z" fill="#1ea0db"/><polygon points="27.5,-79.1 41.5,-79.1 34.5,-67" fill="none" stroke="#fff" stroke-width="1.1"/><polygon points="34.5,-79.1 38,-73.05 31,-73.05" fill="none" stroke="#fff" stroke-width="1"/><path d="M-50,-86.6 L0,0 L50,-86.6" fill="none" stroke="#3a3a3a" stroke-width="0.45"/><text x="-31.5" y="-69.8" font-size="14.5" text-anchor="middle" fill="#231f20" stroke="#231f20" stroke-width="0.35">1</text></g><g transform="translate(614.2,1723.92) rotate(100) scale(0.94)"><polygon points="-50,-86.6 50,-86.6 0,0" fill="#fff" /><path d="M-45.38,-78.6 L-36.1,-62.5 Q-5,-78.6 12,-78.6 Z" fill="#e4e3ee"/><g transform="translate(0,-46) rotate(-100) scale(1.65)"><g transform="rotate(15)"><ellipse cx="0" cy="1" rx="11" ry="3.6" fill="#9fb3ac"/><ellipse cx="7" cy="-1" rx="4" ry="3.2" fill="#56626a"/><ellipse cx="-8" cy="3" rx="4" ry="1.6" fill="#56626a"/></g></g><path d="M-50,-86.6 L50,-86.6 L31.5,-54.6 C30,-68.6 22,-77.6 12,-78.6 L-45.38,-78.6 Z" fill="#1ea0db"/><polygon points="27.5,-79.1 41.5,-79.1 34.5,-67" fill="none" stroke="#fff" stroke-width="1.1"/><polygon points="34.5,-79.1 38,-73.05 31,-73.05" fill="none" stroke="#fff" stroke-width="1"/><path d="M-50,-86.6 L0,0 L50,-86.6" fill="none" stroke="#3a3a3a" stroke-width="0.45"/><text x="-29" y="-69.8" font-size="14.5" text-anchor="middle" fill="#231f20" stroke="#231f20" stroke-width="0.35">−3</text></g><g transform="translate(617.07,1730.23) rotate(-10.9) scale(0.94)"><polygon points="-50,-86.6 50,-86.6 0,0" fill="#fff" /><path d="M-45.38,-78.6 L-36.1,-62.5 Q-5,-78.6 12,-78.6 Z" fill="#e4e3ee"/><g transform="translate(0,-46) rotate(0) scale(1.65)"><path d="M-4,-2 Q-6,6 -2,8 L2,8 Q6,6 4,-2 Q0,-6 -4,-2 Z" fill="#8a765f"/><circle cx="0" cy="-7" r="2.6" fill="#3a2e26"/><path d="M-2,8 L-3,13 M2,8 L3,13" stroke="#3a2e26" stroke-width="1.3"/><path d="M-4,0 L-9,6 M4,0 L9,6" stroke="#8a765f" stroke-width="2"/></g><path d="M-50,-86.6 L50,-86.6 L31.5,-54.6 C30,-68.6 22,-77.6 12,-78.6 L-45.38,-78.6 Z" fill="#1ea0db"/><polygon points="27.5,-79.1 41.5,-79.1 34.5,-67" fill="none" stroke="#fff" stroke-width="1.1"/><polygon points="34.5,-79.1 38,-73.05 31,-73.05" fill="none" stroke="#fff" stroke-width="1"/><path d="M-50,-86.6 L0,0 L50,-86.6" fill="none" stroke="#3a3a3a" stroke-width="0.45"/></g>
<g transform="translate(832.67,1736.25) rotate(-117) scale(0.94)"><polygon points="-50,-86.6 50,-86.6 0,0" fill="#fff" /><path d="M-45.38,-78.6 L-36.1,-62.5 Q-5,-78.6 12,-78.6 Z" fill="#e4e3ee"/><g transform="translate(0,-46) rotate(117) scale(1.65)"><g transform="rotate(-30)"><ellipse cx="0" cy="1" rx="11" ry="3.6" fill="#9fd6a0"/><ellipse cx="7" cy="-1" rx="4" ry="3.2" fill="#5aaa6a"/><ellipse cx="-8" cy="3" rx="4" ry="1.6" fill="#5aaa6a"/></g></g><path d="M-50,-86.6 L50,-86.6 L31.5,-54.6 C30,-68.6 22,-77.6 12,-78.6 L-45.38,-78.6 Z" fill="#e9cd20"/><polygon points="27.5,-79.1 41.5,-79.1 34.5,-67" fill="none" stroke="#fff" stroke-width="1.1"/><polygon points="34.5,-79.1 38,-73.05 31,-73.05" fill="none" stroke="#fff" stroke-width="1"/><path d="M-50,-86.6 L0,0 L50,-86.6" fill="none" stroke="#3a3a3a" stroke-width="0.45"/><text x="-31.5" y="-69.8" font-size="14.5" text-anchor="middle" fill="#231f20" stroke="#231f20" stroke-width="0.35">1</text></g><g transform="translate(834.49,1742.95) rotate(-59) scale(0.94)"><polygon points="-50,-86.6 50,-86.6 0,0" fill="#fff" /><path d="M-45.38,-78.6 L-36.1,-62.5 Q-5,-78.6 12,-78.6 Z" fill="#e4e3ee"/><g transform="translate(0,-46) rotate(0) scale(1.65)"><g transform="rotate(20)"><ellipse cx="0" cy="1" rx="11" ry="3.6" fill="#cf86cf"/><ellipse cx="7" cy="-1" rx="4" ry="3.2" fill="#7a3a7a"/><ellipse cx="-8" cy="3" rx="4" ry="1.6" fill="#7a3a7a"/></g></g><path d="M-50,-86.6 L50,-86.6 L31.5,-54.6 C30,-68.6 22,-77.6 12,-78.6 L-45.38,-78.6 Z" fill="#e9cd20"/><polygon points="27.5,-79.1 41.5,-79.1 34.5,-67" fill="none" stroke="#fff" stroke-width="1.1"/><polygon points="34.5,-79.1 38,-73.05 31,-73.05" fill="none" stroke="#fff" stroke-width="1"/><path d="M-50,-86.6 L0,0 L50,-86.6" fill="none" stroke="#3a3a3a" stroke-width="0.45"/></g><g transform="translate(839.53,1743.83) rotate(36.3) scale(0.94)"><polygon points="-50,-86.6 50,-86.6 0,0" fill="#fff" /><path d="M-45.38,-78.6 L-36.1,-62.5 Q-5,-78.6 12,-78.6 Z" fill="#e4e3ee"/><g transform="translate(0,-46) rotate(0) scale(1.65)"><ellipse cx="0" cy="2" rx="11" ry="7" fill="#d8243f" transform="rotate(-20)"/><ellipse cx="4" cy="-4" rx="6" ry="5" fill="#2a9fd0"/></g><path d="M-50,-86.6 L50,-86.6 L31.5,-54.6 C30,-68.6 22,-77.6 12,-78.6 L-45.38,-78.6 Z" fill="#e9cd20"/><polygon points="27.5,-79.1 41.5,-79.1 34.5,-67" fill="none" stroke="#fff" stroke-width="1.1"/><polygon points="34.5,-79.1 38,-73.05 31,-73.05" fill="none" stroke="#fff" stroke-width="1"/><path d="M-50,-86.6 L0,0 L50,-86.6" fill="none" stroke="#3a3a3a" stroke-width="0.45"/></g><g transform="translate(831.17,1741.94) rotate(2) scale(0.94)"><polygon points="-50,-86.6 50,-86.6 0,0" fill="#fff" /><path d="M-45.38,-78.6 L-36.1,-62.5 Q-5,-78.6 12,-78.6 Z" fill="#e4e3ee"/><g transform="translate(0,-46) rotate(0) scale(1.65)"><path d="M-4,-2 Q-6,6 -2,8 L2,8 Q6,6 4,-2 Q0,-6 -4,-2 Z" fill="#8fc0ea"/><circle cx="0" cy="-7" r="2.6" fill="#5a8ac8"/><path d="M-2,8 L-3,13 M2,8 L3,13" stroke="#5a8ac8" stroke-width="1.3"/><path d="M-4,0 L-9,6 M4,0 L9,6" stroke="#8fc0ea" stroke-width="2"/></g><path d="M-50,-86.6 L50,-86.6 L31.5,-54.6 C30,-68.6 22,-77.6 12,-78.6 L-45.38,-78.6 Z" fill="#e9cd20"/><polygon points="27.5,-79.1 41.5,-79.1 34.5,-67" fill="none" stroke="#fff" stroke-width="1.1"/><polygon points="34.5,-79.1 38,-73.05 31,-73.05" fill="none" stroke="#fff" stroke-width="1"/><path d="M-50,-86.6 L0,0 L50,-86.6" fill="none" stroke="#3a3a3a" stroke-width="0.45"/></g><g transform="translate(826.19,1740.86) rotate(-25.4) scale(0.94)"><polygon points="-50,-86.6 50,-86.6 0,0" fill="#fff" /><path d="M-45.38,-78.6 L-36.1,-62.5 Q-5,-78.6 12,-78.6 Z" fill="#e4e3ee"/><g transform="translate(0,-46) rotate(0) scale(1.65)"><ellipse cx="0" cy="2" rx="11" ry="7" fill="#5a3a1a" transform="rotate(-20)"/><ellipse cx="4" cy="-4" rx="6" ry="5" fill="#2f9f7f"/><circle cx="-7" cy="5" r="3.5" fill="#c03a8a"/></g><path d="M-50,-86.6 L50,-86.6 L31.5,-54.6 C30,-68.6 22,-77.6 12,-78.6 L-45.38,-78.6 Z" fill="#e9cd20"/><polygon points="27.5,-79.1 41.5,-79.1 34.5,-67" fill="none" stroke="#fff" stroke-width="1.1"/><polygon points="34.5,-79.1 38,-73.05 31,-73.05" fill="none" stroke="#fff" stroke-width="1"/><path d="M-50,-86.6 L0,0 L50,-86.6" fill="none" stroke="#3a3a3a" stroke-width="0.45"/><text x="-31.5" y="-69.8" font-size="14.5" text-anchor="middle" fill="#231f20" stroke="#231f20" stroke-width="0.35">3</text></g><g transform="translate(831.94,1728.85) rotate(104.5) scale(0.94)"><polygon points="-50,-86.6 50,-86.6 0,0" fill="#fff" /><path d="M-45.38,-78.6 L-36.1,-62.5 Q-5,-78.6 12,-78.6 Z" fill="#e4e3ee"/><g transform="translate(0,-46) rotate(-104.5) scale(1.65)"><ellipse cx="0" cy="2" rx="11" ry="7" fill="#f0a020" transform="rotate(-20)"/><ellipse cx="4" cy="-4" rx="6" ry="5" fill="#6a4a1a"/></g><path d="M-50,-86.6 L50,-86.6 L31.5,-54.6 C30,-68.6 22,-77.6 12,-78.6 L-45.38,-78.6 Z" fill="#e9cd20"/><polygon points="27.5,-79.1 41.5,-79.1 34.5,-67" fill="none" stroke="#fff" stroke-width="1.1"/><polygon points="34.5,-79.1 38,-73.05 31,-73.05" fill="none" stroke="#fff" stroke-width="1"/><path d="M-50,-86.6 L0,0 L50,-86.6" fill="none" stroke="#3a3a3a" stroke-width="0.45"/><text x="-31.5" y="-69.8" font-size="14.5" text-anchor="middle" fill="#231f20" stroke="#231f20" stroke-width="0.35">3</text></g>
</g>
<g id="s4">
<use href="#cbs" transform="translate(428.5,1934.7) rotate(149.7)"/>
<use href="#cbs" transform="translate(428.5,1934.7) rotate(167.3)"/>
<use href="#cbs" transform="translate(428.5,1934.7) rotate(187)"/>
<use href="#cbs" transform="translate(428.5,1934.7) rotate(209.2)"/>
<use href="#cbs" transform="translate(428.5,1934.7) rotate(223.5)"/>
<circle cx="428.5" cy="1931.8" r="24" fill="#d051a3"/><use href="#person" transform="translate(428.5,1931.8)"/>
<polygon points="671.5,2079 621.9,2164.91 522.7,2164.91 473.1,2079 522.7,1993.09 621.9,1993.09" fill="#e1e1e1" />
<path d="M671.5,2079L473.1,2079M621.9,2164.91L522.7,1993.09M522.7,2164.91L621.9,1993.09" stroke="#222" stroke-width="0.7" fill="none"/>
<polygon points="671.5,2079 621.9,2164.91 522.7,2164.91 473.1,2079 522.7,1993.09 621.9,1993.09" fill="none" stroke="#231f20" stroke-width="2.4" stroke-linejoin="miter"/>
<polygon points="371.5,2252.21 321.9,2338.11 222.7,2338.11 173.1,2252.21 222.7,2166.3 321.9,2166.3" fill="#e1e1e1" />
<use href="#cb" transform="translate(272.3,2252.21) rotate(240) scale(1.01)"/>
<path d="M371.5,2252.21L173.1,2252.21M321.9,2338.11L222.7,2166.3M222.7,2338.11L321.9,2166.3" stroke="#222" stroke-width="0.7" fill="none"/>
<polygon points="371.5,2252.21 321.9,2338.11 222.7,2338.11 173.1,2252.21 222.7,2166.3 321.9,2166.3" fill="none" stroke="#231f20" stroke-width="2.4" stroke-linejoin="miter"/>
<polygon points="521.5,2165.6 471.9,2251.51 372.7,2251.51 323.1,2165.6 372.7,2079.69 471.9,2079.69" fill="#e1e1e1" />
<use href="#cb" transform="translate(422.3,2165.6) rotate(0) scale(1.01)"/>
<path d="M521.5,2165.6L323.1,2165.6M471.9,2251.51L372.7,2079.69M372.7,2251.51L471.9,2079.69" stroke="#222" stroke-width="0.7" fill="none"/>
<polygon points="521.5,2165.6 471.9,2251.51 372.7,2251.51 323.1,2165.6 372.7,2079.69 471.9,2079.69" fill="none" stroke="#231f20" stroke-width="2.4" stroke-linejoin="miter"/>
<polygon points="671.5,2252.21 621.9,2338.11 522.7,2338.11 473.1,2252.21 522.7,2166.3 621.9,2166.3" fill="#e1e1e1" />
<use href="#cb" transform="translate(572.3,2252.21) rotate(60) scale(1.01)"/>
<use href="#cb" transform="translate(572.3,2252.21) rotate(240) scale(1.01)"/>
<path d="M671.5,2252.21L473.1,2252.21M621.9,2338.11L522.7,2166.3M522.7,2338.11L621.9,2166.3" stroke="#222" stroke-width="0.7" fill="none"/>
<polygon points="671.5,2252.21 621.9,2338.11 522.7,2338.11 473.1,2252.21 522.7,2166.3 621.9,2166.3" fill="none" stroke="#231f20" stroke-width="2.4" stroke-linejoin="miter"/>
<polygon points="821.5,2338.81 771.9,2424.72 672.7,2424.72 623.1,2338.81 672.7,2252.9 771.9,2252.9" fill="#4d4e50" />
<use href="#cb" transform="translate(722.3,2338.81) rotate(0) scale(1.01)"/>
<use href="#cb" transform="translate(722.3,2338.81) rotate(240) scale(1.01)"/>
<path d="M821.5,2338.81L623.1,2338.81M771.9,2424.72L672.7,2252.9M672.7,2424.72L771.9,2252.9" stroke="#3b3c3e" stroke-width="0.8" fill="none"/>
<polygon points="821.5,2338.81 771.9,2424.72 672.7,2424.72 623.1,2338.81 672.7,2252.9 771.9,2252.9" fill="none" stroke="#231f20" stroke-width="2.4" stroke-linejoin="miter"/>
<polygon points="371.5,2079 321.9,2164.91 222.7,2164.91 173.1,2079 222.7,1993.09 321.9,1993.09" fill="#4d4e50" />
<use href="#cb" transform="translate(272.3,2079) rotate(0) scale(1.01)"/>
<use href="#cb" transform="translate(272.3,2079) rotate(180) scale(1.01)"/>
<path d="M371.5,2079L173.1,2079M321.9,2164.91L222.7,1993.09M222.7,2164.91L321.9,1993.09" stroke="#3b3c3e" stroke-width="0.8" fill="none"/>
<polygon points="371.5,2079 321.9,2164.91 222.7,2164.91 173.1,2079 222.7,1993.09 321.9,1993.09" fill="none" stroke="#231f20" stroke-width="2.4" stroke-linejoin="miter"/>
<polygon points="372.85,2266.8 474.35,2266.8 423.6,2354.53" fill="#fff" stroke="#26352f" stroke-width="0.9"/>
<polygon points="370.05,2265.8 472.75,2265.8 472.75,2271 370.85,2271" fill="#a3aba6" stroke="#26352f" stroke-width="0.8" stroke-linejoin="round"/>
<use href="#cbs" transform="translate(421.5,2358.73) scale(1.03)"/>
<use href="#cbs" transform="translate(521.4,2452.9) rotate(-30.3)"/>
<use href="#cbs" transform="translate(521.4,2452.9) rotate(-12.7)"/>
<use href="#cbs" transform="translate(521.4,2452.9) rotate(7)"/>
<use href="#cbs" transform="translate(521.4,2452.9) rotate(29.2)"/>
<use href="#cbs" transform="translate(521.4,2452.9) rotate(43.5)"/>
<circle cx="519.6" cy="2451" r="24" fill="#63b845"/><use href="#person" transform="translate(519.6,2451)"/>
<polygon points="221.3,2165.1 323.3,2165.1 316.7,2176.5 240.2,2176.5 284.1,2256.21 272.8,2256.21" fill="#1c1a1b" />
<g transform="translate(290,2260.5) rotate(0) scale(0.99)"><polygon points="-50,-86.6 50,-86.6 0,0" fill="#fff" /><path d="M-45.96,-79.6 L-36.1,-62.5 Q-5,-79.6 12,-79.6 Z" fill="#e4e3ee"/><g transform="translate(0,-47) rotate(0) scale(1.4)"><path d="M1,14 L-9,-9" stroke="#6dbb45" stroke-width="4.2" stroke-dasharray="1.3 1.7" fill="none"/><path d="M1,14 L-9,-9" stroke="#c9d84a" stroke-width="2" stroke-dasharray="1.3 1.7" stroke-dashoffset="1.5" fill="none"/><path d="M1,14 L-9,-9" stroke="#6a4a2a" stroke-width="0.5" fill="none"/><path d="M1,14 L2,-2 L10,-12" stroke="#6dbb45" stroke-width="4.2" stroke-dasharray="1.3 1.7" fill="none"/><path d="M1,14 L2,-2 L10,-12" stroke="#c9d84a" stroke-width="2" stroke-dasharray="1.3 1.7" stroke-dashoffset="1.5" fill="none"/><path d="M1,14 L2,-2 L10,-12" stroke="#6a4a2a" stroke-width="0.5" fill="none"/><path d="M-1,2 L-1,-6 L4,-15" stroke="#6dbb45" stroke-width="4.2" stroke-dasharray="1.3 1.7" fill="none"/><path d="M-1,2 L-1,-6 L4,-15" stroke="#c9d84a" stroke-width="2" stroke-dasharray="1.3 1.7" stroke-dashoffset="1.5" fill="none"/><path d="M-1,2 L-1,-6 L4,-15" stroke="#6a4a2a" stroke-width="0.5" fill="none"/></g><path d="M-50,-86.6 L50,-86.6 L31.5,-54.6 C30,-68.6 22,-78.6 12,-79.6 L-45.96,-79.6 Z" fill="#63b845"/><polygon points="35.6,-80.1 40.8,-80.1 38.2,-75.5" fill="#fff" stroke="#fff" stroke-width="0.9" stroke-linejoin="miter"/><polygon points="27.6,-80.1 32.8,-80.1 30.2,-75.5" fill="none" stroke="#fff" stroke-width="0.9" stroke-linejoin="miter"/><polygon points="31.7,-73.3 36.9,-73.3 34.3,-68.7" fill="none" stroke="#fff" stroke-width="0.9" stroke-linejoin="miter"/><path d="M-50,-86.6 L0,0 L50,-86.6" fill="none" stroke="#3a3a3a" stroke-width="0.45"/><text x="-29" y="-69.8" font-size="13" text-anchor="middle" fill="#231f20" stroke="#231f20" stroke-width="0.35">−3</text></g>
<path d="M203,2173.5 C170,2190 143,2225 140.6,2266 C139,2310 160,2360 200,2391 C228,2410 260,2413 284,2412.3" fill="none" stroke="#231f20" stroke-width="2.3"/>
<polygon points="0,0 -20,-10 -15,0 -20,10" fill="#231f20" transform="translate(214.5,2169.5) rotate(-22)"/>
<polygon points="0,0 -20,-10 -15,0 -20,10" fill="#231f20" transform="translate(298.5,2412.3) rotate(0)"/>
<g transform="translate(358,2320) rotate(180) scale(0.99)"><polygon points="-50,-86.6 50,-86.6 0,0" fill="#fff" /><path d="M-45.96,-79.6 L-36.1,-62.5 Q-5,-79.6 12,-79.6 Z" fill="#e4e3ee"/><g transform="translate(0,-58) rotate(180) scale(1.4)"><ellipse cx="0.5" cy="4" rx="10" ry="1.6" fill="#e2e0dc"/><path d="M-10,-3 Q-10,-6 -6,-5 L4,-3 Q10,-2 10,1.5 Q10,4 6,4 L-6,3 Q-10,2 -10,-3 Z" fill="#d153a5"/><path d="M-7,-2 L-2,-1 L-2,1.5 L-7,0.5 Z M0,-0.5 L6,0.5 M2,-1.5 L5,2.5" fill="#fff" stroke="#fff" stroke-width="0.8"/></g><path d="M-50,-86.6 L50,-86.6 L31.5,-54.6 C30,-68.6 22,-78.6 12,-79.6 L-45.96,-79.6 Z" fill="#d051a3"/><polygon points="35.6,-80.1 40.8,-80.1 38.2,-75.5" fill="none" stroke="#fff" stroke-width="0.9" stroke-linejoin="miter"/><polygon points="27.6,-80.1 32.8,-80.1 30.2,-75.5" fill="none" stroke="#fff" stroke-width="0.9" stroke-linejoin="miter"/><polygon points="31.7,-73.3 36.9,-73.3 34.3,-68.7" fill="none" stroke="#fff" stroke-width="0.9" stroke-linejoin="miter"/><path d="M-50,-86.6 L0,0 L50,-86.6" fill="none" stroke="#3a3a3a" stroke-width="0.45"/><text x="-31.5" y="-69.8" font-size="13" text-anchor="middle" fill="#231f20" stroke="#231f20" stroke-width="0.35">1</text></g>
<g transform="translate(358,2492.5) rotate(0) scale(0.99)"><polygon points="-50,-86.6 50,-86.6 0,0" fill="#fff" /><path d="M-45.96,-79.6 L-36.1,-62.5 Q-5,-79.6 12,-79.6 Z" fill="#e4e3ee"/><g transform="translate(0,-47) rotate(0) scale(1.4)"><path d="M1,14 L-9,-9" stroke="#6dbb45" stroke-width="4.2" stroke-dasharray="1.3 1.7" fill="none"/><path d="M1,14 L-9,-9" stroke="#c9d84a" stroke-width="2" stroke-dasharray="1.3 1.7" stroke-dashoffset="1.5" fill="none"/><path d="M1,14 L-9,-9" stroke="#6a4a2a" stroke-width="0.5" fill="none"/><path d="M1,14 L2,-2 L10,-12" stroke="#6dbb45" stroke-width="4.2" stroke-dasharray="1.3 1.7" fill="none"/><path d="M1,14 L2,-2 L10,-12" stroke="#c9d84a" stroke-width="2" stroke-dasharray="1.3 1.7" stroke-dashoffset="1.5" fill="none"/><path d="M1,14 L2,-2 L10,-12" stroke="#6a4a2a" stroke-width="0.5" fill="none"/><path d="M-1,2 L-1,-6 L4,-15" stroke="#6dbb45" stroke-width="4.2" stroke-dasharray="1.3 1.7" fill="none"/><path d="M-1,2 L-1,-6 L4,-15" stroke="#c9d84a" stroke-width="2" stroke-dasharray="1.3 1.7" stroke-dashoffset="1.5" fill="none"/><path d="M-1,2 L-1,-6 L4,-15" stroke="#6a4a2a" stroke-width="0.5" fill="none"/></g><path d="M-50,-86.6 L50,-86.6 L31.5,-54.6 C30,-68.6 22,-78.6 12,-79.6 L-45.96,-79.6 Z" fill="#63b845"/><polygon points="35.6,-80.1 40.8,-80.1 38.2,-75.5" fill="#fff" stroke="#fff" stroke-width="0.9" stroke-linejoin="miter"/><polygon points="27.6,-80.1 32.8,-80.1 30.2,-75.5" fill="none" stroke="#fff" stroke-width="0.9" stroke-linejoin="miter"/><polygon points="31.7,-73.3 36.9,-73.3 34.3,-68.7" fill="none" stroke="#fff" stroke-width="0.9" stroke-linejoin="miter"/><path d="M-50,-86.6 L0,0 L50,-86.6" fill="none" stroke="#3a3a3a" stroke-width="0.45"/><text x="-29" y="-69.8" font-size="13" text-anchor="middle" fill="#231f20" stroke="#231f20" stroke-width="0.35">−3</text></g>
<path d="M333.08,2357.51 A36.5,19.5 0 1 0 392.92,2367.28" fill="none" stroke="#231f20" stroke-width="2.3"/>
<polygon points="0,0 -15,-7.5 -11,0 -15,7.5" fill="#231f20" transform="translate(400.5,2362) rotate(-62)"/>
</g>
<g id="s5">
<polygon points="270.9,2601.9 321.3,2601.9 296.1,2645.6" fill="#231f20" /><polygon points="298.6,2608.2 308.4,2608.2 303.5,2616.8" fill="none" stroke="#fff" stroke-width="1.1"/><polygon points="283.9,2608.2 293.7,2608.2 288.8,2616.8" fill="none" stroke="#fff" stroke-width="1.1"/><polygon points="291.3,2620.7 301.1,2620.7 296.2,2629.3" fill="none" stroke="#fff" stroke-width="1.1"/>
<text x="322.4" y="2633.9" font-size="30.5" fill="#1e3d36" textLength="40" lengthAdjust="spacingAndGlyphs">=0</text>
<polygon points="381.1,2601.9 431.5,2601.9 406.3,2645.6" fill="#231f20" /><polygon points="408.8,2608.2 418.6,2608.2 413.7,2616.8" fill="#fff" stroke="#fff" stroke-width="1.1"/><polygon points="394.1,2608.2 403.9,2608.2 399,2616.8" fill="none" stroke="#fff" stroke-width="1.1"/><polygon points="401.5,2620.7 411.3,2620.7 406.4,2629.3" fill="none" stroke="#fff" stroke-width="1.1"/>
<text x="432.6" y="2633.9" font-size="30.5" fill="#1e3d36" textLength="33" lengthAdjust="spacingAndGlyphs">=1</text>
<polygon points="491.9,2601.9 542.3,2601.9 517.1,2645.6" fill="#231f20" /><polygon points="519.6,2608.2 529.4,2608.2 524.5,2616.8" fill="#fff" stroke="#fff" stroke-width="1.1"/><polygon points="504.9,2608.2 514.7,2608.2 509.8,2616.8" fill="#fff" stroke="#fff" stroke-width="1.1"/><polygon points="512.3,2620.7 522.1,2620.7 517.2,2629.3" fill="none" stroke="#fff" stroke-width="1.1"/>
<text x="543.4" y="2633.9" font-size="30.5" fill="#1e3d36" textLength="40" lengthAdjust="spacingAndGlyphs">=2</text>
<polygon points="601.8,2601.9 652.2,2601.9 627,2645.6" fill="#231f20" /><polygon points="629.5,2608.2 639.3,2608.2 634.4,2616.8" fill="#fff" stroke="#fff" stroke-width="1.1"/><polygon points="614.8,2608.2 624.6,2608.2 619.7,2616.8" fill="#fff" stroke="#fff" stroke-width="1.1"/><polygon points="622.2,2620.7 632,2620.7 627.1,2629.3" fill="#fff" stroke="#fff" stroke-width="1.1"/>
<text x="653.3" y="2633.9" font-size="30.5" fill="#1e3d36" textLength="40" lengthAdjust="spacingAndGlyphs">=3</text>
<g transform="translate(437.3,2816) rotate(-60) scale(1.35)"><polygon points="-50,-86.6 50,-86.6 0,0" fill="#fff" /><path d="M-45.96,-79.6 L-36.1,-62.5 Q-5,-79.6 12,-79.6 Z" fill="#e4e3ee"/><g transform="translate(0,-47) rotate(60) scale(1.4)"><ellipse cx="10" cy="6" rx="8" ry="4" fill="#e6e3df" transform="rotate(-55 10 6)"/><path d="M7,6 L13,2 M8,9 L14,6" stroke="#6d4a2a" stroke-width="1.5"/><path d="M-5,10 Q-12,12 -13,5" stroke="#b7cf2e" stroke-width="3" fill="none" stroke-linecap="round"/><circle cx="-13.5" cy="3" r="2.6" fill="#7a5a2a"/><ellipse cx="-1" cy="4.5" rx="6.5" ry="8" fill="#b7cf2e" transform="rotate(-22 -1 4.5)"/><path d="M-6,12 L6,12 L5,4 L-3,6 Z" fill="#b7cf2e"/><circle cx="3.5" cy="-5" r="4.3" fill="#b7cf2e"/><ellipse cx="7.5" cy="-4" rx="3.2" ry="2.1" fill="#b7cf2e"/><path d="M0.5,-7 L1.5,-12 L4.5,-8.5 Z M4,-8.5 L6.5,-12 L7,-7.5 Z" fill="#b7cf2e"/></g><path d="M-50,-86.6 L50,-86.6 L31.5,-54.6 C30,-68.6 22,-78.6 12,-79.6 L-45.96,-79.6 Z" fill="#63b845"/><polygon points="35.6,-80.1 40.8,-80.1 38.2,-75.5" fill="#fff" stroke="#fff" stroke-width="0.9" stroke-linejoin="miter"/><polygon points="27.6,-80.1 32.8,-80.1 30.2,-75.5" fill="#fff" stroke="#fff" stroke-width="0.9" stroke-linejoin="miter"/><polygon points="31.7,-73.3 36.9,-73.3 34.3,-68.7" fill="#fff" stroke="#fff" stroke-width="0.9" stroke-linejoin="miter"/><path d="M-50,-86.6 L0,0 L50,-86.6" fill="none" stroke="#3a3a3a" stroke-width="0.45"/><text x="-29" y="-69.8" font-size="13" text-anchor="middle" fill="#231f20" stroke="#231f20" stroke-width="0.35">−1</text></g>
<g transform="translate(437.5,2815.5) rotate(0) scale(1.35)"><polygon points="-50,-86.6 50,-86.6 0,0" fill="#fff" /><path d="M-45.96,-79.6 L-36.1,-62.5 Q-5,-79.6 12,-79.6 Z" fill="#e4e3ee"/><g transform="translate(0,-47) rotate(0) scale(1.4)"><path d="M1,14 L-9,-9" stroke="#6dbb45" stroke-width="4.2" stroke-dasharray="1.3 1.7" fill="none"/><path d="M1,14 L-9,-9" stroke="#c9d84a" stroke-width="2" stroke-dasharray="1.3 1.7" stroke-dashoffset="1.5" fill="none"/><path d="M1,14 L-9,-9" stroke="#6a4a2a" stroke-width="0.5" fill="none"/><path d="M1,14 L2,-2 L10,-12" stroke="#6dbb45" stroke-width="4.2" stroke-dasharray="1.3 1.7" fill="none"/><path d="M1,14 L2,-2 L10,-12" stroke="#c9d84a" stroke-width="2" stroke-dasharray="1.3 1.7" stroke-dashoffset="1.5" fill="none"/><path d="M1,14 L2,-2 L10,-12" stroke="#6a4a2a" stroke-width="0.5" fill="none"/><path d="M-1,2 L-1,-6 L4,-15" stroke="#6dbb45" stroke-width="4.2" stroke-dasharray="1.3 1.7" fill="none"/><path d="M-1,2 L-1,-6 L4,-15" stroke="#c9d84a" stroke-width="2" stroke-dasharray="1.3 1.7" stroke-dashoffset="1.5" fill="none"/><path d="M-1,2 L-1,-6 L4,-15" stroke="#6a4a2a" stroke-width="0.5" fill="none"/></g><path d="M-50,-86.6 L50,-86.6 L31.5,-54.6 C30,-68.6 22,-78.6 12,-79.6 L-45.96,-79.6 Z" fill="#63b845"/><polygon points="35.6,-80.1 40.8,-80.1 38.2,-75.5" fill="#fff" stroke="#fff" stroke-width="0.9" stroke-linejoin="miter"/><polygon points="27.6,-80.1 32.8,-80.1 30.2,-75.5" fill="none" stroke="#fff" stroke-width="0.9" stroke-linejoin="miter"/><polygon points="31.7,-73.3 36.9,-73.3 34.3,-68.7" fill="none" stroke="#fff" stroke-width="0.9" stroke-linejoin="miter"/><path d="M-50,-86.6 L0,0 L50,-86.6" fill="none" stroke="#3a3a3a" stroke-width="0.45"/><text x="-29" y="-69.8" font-size="13" text-anchor="middle" fill="#231f20" stroke="#231f20" stroke-width="0.35">-3</text></g>
<g transform="translate(468.5,2816.3) rotate(60) scale(1.37)"><polygon points="-50,-86.6 50,-86.6 0,0" fill="#fff" /><path d="M-45.96,-79.6 L-36.1,-62.5 Q-5,-79.6 12,-79.6 Z" fill="#e4e3ee"/><g transform="translate(0,-47) rotate(-60) scale(1.4)"><g transform="rotate(-28)"><path d="M-15,-7 L13,-7" stroke="#333" stroke-width="0.6"/><rect x="6" y="-3" width="9" height="9" rx="2" fill="#e9a43b"/><rect x="-10" y="-5.5" width="21" height="12" rx="6" fill="#c8243f"/><circle cx="9" cy="-1.5" r="2.8" fill="#1d1416"/><rect x="-13.5" y="-3" width="3.5" height="3" fill="#2a9fc0"/><rect x="-13.5" y="2" width="3.5" height="3" fill="#2a9fc0"/><ellipse cx="-2" cy="8" rx="13" ry="1.5" fill="#e2e0dc"/></g></g><path d="M-50,-86.6 L50,-86.6 L31.5,-54.6 C30,-68.6 22,-78.6 12,-79.6 L-45.96,-79.6 Z" fill="#d051a3"/><polygon points="35.6,-80.1 40.8,-80.1 38.2,-75.5" fill="#fff" stroke="#fff" stroke-width="0.9" stroke-linejoin="miter"/><polygon points="27.6,-80.1 32.8,-80.1 30.2,-75.5" fill="none" stroke="#fff" stroke-width="0.9" stroke-linejoin="miter"/><polygon points="31.7,-73.3 36.9,-73.3 34.3,-68.7" fill="none" stroke="#fff" stroke-width="0.9" stroke-linejoin="miter"/><path d="M-50,-86.6 L0,0 L50,-86.6" fill="none" stroke="#3a3a3a" stroke-width="0.45"/><text x="-31.5" y="-69.8" font-size="13" text-anchor="middle" fill="#231f20" stroke="#231f20" stroke-width="0.35">1</text></g>
<path d="M588.5,2780 C586,2740 584,2716 568,2697 C556,2684 540,2680 527,2682" fill="none" stroke="#d051a3" stroke-width="4"/>
<polygon points="0,0 -26,-11.5 -20,0 -26,11.5" fill="#d051a3" transform="translate(511,2685.5) rotate(171)"/>
<path d="M566,2815 C530,2832 490,2840 446,2840 C405,2838 375,2815 361,2782 L357.5,2768" fill="none" stroke="#d051a3" stroke-width="4"/>
<polygon points="0,0 -26,-11.5 -20,0 -26,11.5" fill="#d051a3" transform="translate(354.5,2751) rotate(-102)"/>
<circle cx="369.4" cy="2723.5" r="23.5" fill="#63b845"/><circle cx="369.4" cy="2723.5" r="15.98" fill="none" stroke="#fff" stroke-width="1.5"/><g transform="translate(369.4,2723.5) rotate(-60)"><polygon points="1.6,-6.8 9.6,-6.8 5.6,0.2" fill="#fff" stroke="#fff" stroke-width="1.1"/><polygon points="-9.6,-6.8 -1.6,-6.8 -5.6,0.2" fill="#fff" stroke="#fff" stroke-width="1.1"/><polygon points="-4,2.8 4,2.8 0,9.8" fill="#fff" stroke="#fff" stroke-width="1.1"/></g>
<circle cx="484.7" cy="2710.3" r="23.5" fill="#63b845"/><circle cx="484.7" cy="2710.3" r="15.98" fill="none" stroke="#fff" stroke-width="1.5"/><g transform="translate(484.7,2710.3) rotate(0)"><polygon points="1.6,-6.8 9.6,-6.8 5.6,0.2" fill="#fff" stroke="#fff" stroke-width="1.1"/><polygon points="-9.6,-6.8 -1.6,-6.8 -5.6,0.2" fill="none" stroke="#fff" stroke-width="1.1"/><polygon points="-4,2.8 4,2.8 0,9.8" fill="none" stroke="#fff" stroke-width="1.1"/></g>
<circle cx="582.4" cy="2801.7" r="23.5" fill="#d051a3"/><circle cx="582.4" cy="2801.7" r="15.98" fill="none" stroke="#fff" stroke-width="1.5"/><g transform="translate(582.4,2801.7) rotate(60)"><polygon points="1.6,-6.8 9.6,-6.8 5.6,0.2" fill="#fff" stroke="#fff" stroke-width="1.1"/><polygon points="-9.6,-6.8 -1.6,-6.8 -5.6,0.2" fill="none" stroke="#fff" stroke-width="1.1"/><polygon points="-4,2.8 4,2.8 0,9.8" fill="none" stroke="#fff" stroke-width="1.1"/></g>
<path d="M438.3,2820.2 L479.3,2861.2 M438.3,2861.2 L479.3,2820.2" stroke="#63b845" stroke-width="7" stroke-linecap="round" fill="none"/>
<path d="M605.2,2755.5 H668" stroke="#231f20" stroke-width="2.3"/>
<polygon points="0,0 -21,-10.5 -16,0 -21,10.5" fill="#231f20" transform="translate(683.2,2755.5) rotate(0)"/>
<g transform="translate(790.6,2831.5) rotate(0) scale(1.38)"><polygon points="-50,-86.6 50,-86.6 0,0" fill="#fff" /><path d="M-45.96,-79.6 L-36.1,-62.5 Q-5,-79.6 12,-79.6 Z" fill="#e4e3ee"/><path d="M-50,-86.6 L50,-86.6 L31.5,-54.6 C30,-68.6 22,-78.6 12,-79.6 L-45.96,-79.6 Z" fill="#63b845"/><polygon points="35.6,-80.1 40.8,-80.1 38.2,-75.5" fill="#fff" stroke="#fff" stroke-width="0.9" stroke-linejoin="miter"/><polygon points="27.6,-80.1 32.8,-80.1 30.2,-75.5" fill="none" stroke="#fff" stroke-width="0.9" stroke-linejoin="miter"/><polygon points="31.7,-73.3 36.9,-73.3 34.3,-68.7" fill="none" stroke="#fff" stroke-width="0.9" stroke-linejoin="miter"/><path d="M-50,-86.6 L0,0 L50,-86.6" fill="none" stroke="#3a3a3a" stroke-width="0.45"/></g>
<g transform="translate(790.6,2833.7) rotate(-60) scale(1.36)"><polygon points="-50,-86.6 50,-86.6 0,0" fill="#fff" /><path d="M-45.96,-79.6 L-36.1,-62.5 Q-5,-79.6 12,-79.6 Z" fill="#e4e3ee"/><g transform="translate(0,-47) rotate(60) scale(1.4)"><ellipse cx="10" cy="6" rx="8" ry="4" fill="#e6e3df" transform="rotate(-55 10 6)"/><path d="M7,6 L13,2 M8,9 L14,6" stroke="#6d4a2a" stroke-width="1.5"/><path d="M-5,10 Q-12,12 -13,5" stroke="#b7cf2e" stroke-width="3" fill="none" stroke-linecap="round"/><circle cx="-13.5" cy="3" r="2.6" fill="#7a5a2a"/><ellipse cx="-1" cy="4.5" rx="6.5" ry="8" fill="#b7cf2e" transform="rotate(-22 -1 4.5)"/><path d="M-6,12 L6,12 L5,4 L-3,6 Z" fill="#b7cf2e"/><circle cx="3.5" cy="-5" r="4.3" fill="#b7cf2e"/><ellipse cx="7.5" cy="-4" rx="3.2" ry="2.1" fill="#b7cf2e"/><path d="M0.5,-7 L1.5,-12 L4.5,-8.5 Z M4,-8.5 L6.5,-12 L7,-7.5 Z" fill="#b7cf2e"/></g><path d="M-50,-86.6 L50,-86.6 L31.5,-54.6 C30,-68.6 22,-78.6 12,-79.6 L-45.96,-79.6 Z" fill="#63b845"/><polygon points="35.6,-80.1 40.8,-80.1 38.2,-75.5" fill="#fff" stroke="#fff" stroke-width="0.9" stroke-linejoin="miter"/><polygon points="27.6,-80.1 32.8,-80.1 30.2,-75.5" fill="#fff" stroke="#fff" stroke-width="0.9" stroke-linejoin="miter"/><polygon points="31.7,-73.3 36.9,-73.3 34.3,-68.7" fill="#fff" stroke="#fff" stroke-width="0.9" stroke-linejoin="miter"/><path d="M-50,-86.6 L0,0 L50,-86.6" fill="none" stroke="#3a3a3a" stroke-width="0.45"/><text x="-29" y="-69.8" font-size="13" text-anchor="middle" fill="#231f20" stroke="#231f20" stroke-width="0.35">−1</text></g>
<g transform="translate(791.9,2809.8) rotate(0) scale(1.36)"><polygon points="-50,-86.6 50,-86.6 0,0" fill="#fff" /><path d="M-45.96,-79.6 L-36.1,-62.5 Q-5,-79.6 12,-79.6 Z" fill="#e4e3ee"/><g transform="translate(0,-47) rotate(0) scale(1.4)"><ellipse cx="1" cy="11" rx="9" ry="1.6" fill="#e2e0dc"/><rect x="3" y="-7" width="7" height="8" rx="1.5" fill="#e9a43b"/><rect x="-3" y="6" width="2.2" height="5" fill="#2a9fc0"/><rect x="1.5" y="6" width="2.2" height="5" fill="#2a9fc0"/><path d="M-4.5,-6 Q-4.5,-12 0.5,-12 Q5.5,-12 5.5,-6 L5,7 Q0.5,9 -4,7 Z" fill="#c8243f"/><ellipse cx="-0.2" cy="-8" rx="2.6" ry="3" fill="#1d1416"/><path d="M-8,-6 L-8,11" stroke="#2a2a3a" stroke-width="0.7"/></g><path d="M-50,-86.6 L50,-86.6 L31.5,-54.6 C30,-68.6 22,-78.6 12,-79.6 L-45.96,-79.6 Z" fill="#d051a3"/><polygon points="35.6,-80.1 40.8,-80.1 38.2,-75.5" fill="none" stroke="#fff" stroke-width="0.9" stroke-linejoin="miter"/><polygon points="27.6,-80.1 32.8,-80.1 30.2,-75.5" fill="none" stroke="#fff" stroke-width="0.9" stroke-linejoin="miter"/><polygon points="31.7,-73.3 36.9,-73.3 34.3,-68.7" fill="none" stroke="#fff" stroke-width="0.9" stroke-linejoin="miter"/><path d="M-50,-86.6 L0,0 L50,-86.6" fill="none" stroke="#3a3a3a" stroke-width="0.45"/><text x="-31.5" y="-69.8" font-size="13" text-anchor="middle" fill="#231f20" stroke="#231f20" stroke-width="0.35">1</text></g>
<g transform="translate(334.5,3013) rotate(-68) scale(1.28)"><polygon points="-50,-86.6 50,-86.6 0,0" fill="#fff" /><path d="M-45.96,-79.6 L-36.1,-62.5 Q-5,-79.6 12,-79.6 Z" fill="#e4e3ee"/><g transform="translate(0,-47) rotate(0) scale(1.4)"><ellipse cx="0" cy="2" rx="11" ry="7" fill="#6b5a14" transform="rotate(-20)"/><ellipse cx="4" cy="-4" rx="6" ry="5" fill="#3f9fd8"/></g><path d="M-50,-86.6 L50,-86.6 L31.5,-54.6 C30,-68.6 22,-78.6 12,-79.6 L-45.96,-79.6 Z" fill="#d051a3"/><polygon points="35.6,-80.1 40.8,-80.1 38.2,-75.5" fill="none" stroke="#fff" stroke-width="0.9" stroke-linejoin="miter"/><polygon points="27.6,-80.1 32.8,-80.1 30.2,-75.5" fill="none" stroke="#fff" stroke-width="0.9" stroke-linejoin="miter"/><polygon points="31.7,-73.3 36.9,-73.3 34.3,-68.7" fill="none" stroke="#fff" stroke-width="0.9" stroke-linejoin="miter"/><path d="M-50,-86.6 L0,0 L50,-86.6" fill="none" stroke="#3a3a3a" stroke-width="0.45"/><text x="-29" y="-69.8" font-size="13" text-anchor="middle" fill="#231f20" stroke="#231f20" stroke-width="0.35">−2</text></g>
<g transform="translate(334.5,3013) rotate(-50) scale(1.28)"><polygon points="-50,-86.6 50,-86.6 0,0" fill="#fff" /><path d="M-45.96,-79.6 L-36.1,-62.5 Q-5,-79.6 12,-79.6 Z" fill="#e4e3ee"/><g transform="translate(0,-47) rotate(0) scale(1.4)"><ellipse cx="0" cy="2" rx="11" ry="7" fill="#e6399b" transform="rotate(-20)"/><ellipse cx="4" cy="-4" rx="6" ry="5" fill="#ee7d1c"/></g><path d="M-50,-86.6 L50,-86.6 L31.5,-54.6 C30,-68.6 22,-78.6 12,-79.6 L-45.96,-79.6 Z" fill="#63b845"/><polygon points="35.6,-80.1 40.8,-80.1 38.2,-75.5" fill="none" stroke="#fff" stroke-width="0.9" stroke-linejoin="miter"/><polygon points="27.6,-80.1 32.8,-80.1 30.2,-75.5" fill="none" stroke="#fff" stroke-width="0.9" stroke-linejoin="miter"/><polygon points="31.7,-73.3 36.9,-73.3 34.3,-68.7" fill="none" stroke="#fff" stroke-width="0.9" stroke-linejoin="miter"/><path d="M-50,-86.6 L0,0 L50,-86.6" fill="none" stroke="#3a3a3a" stroke-width="0.45"/><text x="-29" y="-69.8" font-size="13" text-anchor="middle" fill="#231f20" stroke="#231f20" stroke-width="0.35">−2</text></g>
<g transform="translate(334.5,3013) rotate(-28) scale(1.28)"><polygon points="-50,-86.6 50,-86.6 0,0" fill="#fff" /><path d="M-45.96,-79.6 L-36.1,-62.5 Q-5,-79.6 12,-79.6 Z" fill="#e4e3ee"/><g transform="translate(0,-47) rotate(0) scale(1.4)"><ellipse cx="0" cy="2" rx="11" ry="7" fill="#b7cf2e" transform="rotate(-20)"/><ellipse cx="4" cy="-4" rx="6" ry="5" fill="#b7cf2e"/><circle cx="-7" cy="5" r="3.5" fill="#7a5a2a"/></g><path d="M-50,-86.6 L50,-86.6 L31.5,-54.6 C30,-68.6 22,-78.6 12,-79.6 L-45.96,-79.6 Z" fill="#63b845"/><polygon points="35.6,-80.1 40.8,-80.1 38.2,-75.5" fill="none" stroke="#fff" stroke-width="0.9" stroke-linejoin="miter"/><polygon points="27.6,-80.1 32.8,-80.1 30.2,-75.5" fill="none" stroke="#fff" stroke-width="0.9" stroke-linejoin="miter"/><polygon points="31.7,-73.3 36.9,-73.3 34.3,-68.7" fill="none" stroke="#fff" stroke-width="0.9" stroke-linejoin="miter"/><path d="M-50,-86.6 L0,0 L50,-86.6" fill="none" stroke="#3a3a3a" stroke-width="0.45"/><text x="-29" y="-69.8" font-size="13" text-anchor="middle" fill="#231f20" stroke="#231f20" stroke-width="0.35">−1</text></g>
<g transform="translate(334.5,3013) rotate(18.5) scale(1.28)"><polygon points="-50,-86.6 50,-86.6 0,0" fill="#fff" /><path d="M-45.96,-79.6 L-36.1,-62.5 Q-5,-79.6 12,-79.6 Z" fill="#e4e3ee"/><path d="M-50,-86.6 L50,-86.6 L31.5,-54.6 C30,-68.6 22,-78.6 12,-79.6 L-45.96,-79.6 Z" fill="#63b845"/><polygon points="35.6,-80.1 40.8,-80.1 38.2,-75.5" fill="#fff" stroke="#fff" stroke-width="0.9" stroke-linejoin="miter"/><polygon points="27.6,-80.1 32.8,-80.1 30.2,-75.5" fill="none" stroke="#fff" stroke-width="0.9" stroke-linejoin="miter"/><polygon points="31.7,-73.3 36.9,-73.3 34.3,-68.7" fill="none" stroke="#fff" stroke-width="0.9" stroke-linejoin="miter"/><path d="M-50,-86.6 L0,0 L50,-86.6" fill="none" stroke="#3a3a3a" stroke-width="0.45"/></g>
<g transform="translate(334.5,3013) rotate(0) scale(1.28)"><polygon points="-50,-86.6 50,-86.6 0,0" fill="#fff" /><path d="M-45.96,-79.6 L-36.1,-62.5 Q-5,-79.6 12,-79.6 Z" fill="#e4e3ee"/><g transform="translate(0,-47) rotate(0) scale(1.4)"><ellipse cx="1" cy="11" rx="9" ry="1.6" fill="#e2e0dc"/><rect x="3" y="-7" width="7" height="8" rx="1.5" fill="#e9a43b"/><rect x="-3" y="6" width="2.2" height="5" fill="#2a9fc0"/><rect x="1.5" y="6" width="2.2" height="5" fill="#2a9fc0"/><path d="M-4.5,-6 Q-4.5,-12 0.5,-12 Q5.5,-12 5.5,-6 L5,7 Q0.5,9 -4,7 Z" fill="#c8243f"/><ellipse cx="-0.2" cy="-8" rx="2.6" ry="3" fill="#1d1416"/><path d="M-8,-6 L-8,11" stroke="#2a2a3a" stroke-width="0.7"/></g><path d="M-50,-86.6 L50,-86.6 L31.5,-54.6 C30,-68.6 22,-78.6 12,-79.6 L-45.96,-79.6 Z" fill="#d051a3"/><polygon points="35.6,-80.1 40.8,-80.1 38.2,-75.5" fill="#fff" stroke="#fff" stroke-width="0.9" stroke-linejoin="miter"/><polygon points="27.6,-80.1 32.8,-80.1 30.2,-75.5" fill="none" stroke="#fff" stroke-width="0.9" stroke-linejoin="miter"/><polygon points="31.7,-73.3 36.9,-73.3 34.3,-68.7" fill="none" stroke="#fff" stroke-width="0.9" stroke-linejoin="miter"/><path d="M-50,-86.6 L0,0 L50,-86.6" fill="none" stroke="#3a3a3a" stroke-width="0.45"/><text x="-31.5" y="-69.8" font-size="13" text-anchor="middle" fill="#231f20" stroke="#231f20" stroke-width="0.35">1</text></g>
<circle cx="334.3" cy="3018.4" r="24" fill="#63b845"/><use href="#person" transform="translate(334.3,3018.4)"/>
<g transform="translate(550.3,3011.6) rotate(0) scale(1.28)"><polygon points="-50,-86.6 50,-86.6 0,0" fill="#fff" /><path d="M-45.96,-79.6 L-36.1,-62.5 Q-5,-79.6 12,-79.6 Z" fill="#e4e3ee"/><g transform="translate(0,-47) rotate(0) scale(1.4)"><ellipse cx="0.5" cy="4" rx="10" ry="1.6" fill="#e2e0dc"/><path d="M-10,-3 Q-10,-6 -6,-5 L4,-3 Q10,-2 10,1.5 Q10,4 6,4 L-6,3 Q-10,2 -10,-3 Z" fill="#d153a5"/><path d="M-7,-2 L-2,-1 L-2,1.5 L-7,0.5 Z M0,-0.5 L6,0.5 M2,-1.5 L5,2.5" fill="#fff" stroke="#fff" stroke-width="0.8"/></g><path d="M-50,-86.6 L50,-86.6 L31.5,-54.6 C30,-68.6 22,-78.6 12,-79.6 L-45.96,-79.6 Z" fill="#d051a3"/><polygon points="35.6,-80.1 40.8,-80.1 38.2,-75.5" fill="none" stroke="#fff" stroke-width="0.9" stroke-linejoin="miter"/><polygon points="27.6,-80.1 32.8,-80.1 30.2,-75.5" fill="none" stroke="#fff" stroke-width="0.9" stroke-linejoin="miter"/><polygon points="31.7,-73.3 36.9,-73.3 34.3,-68.7" fill="none" stroke="#fff" stroke-width="0.9" stroke-linejoin="miter"/><path d="M-50,-86.6 L0,0 L50,-86.6" fill="none" stroke="#3a3a3a" stroke-width="0.45"/><text x="-31.5" y="-69.8" font-size="13" text-anchor="middle" fill="#231f20" stroke="#231f20" stroke-width="0.35">1</text></g>
<circle cx="550.8" cy="3011.6" r="24" fill="#d051a3"/><use href="#person" transform="translate(550.8,3011.6)"/>
<path d="M380,2927 C392,2950 412,2966 440,2970 C465,2973 485,2969 500,2964" fill="none" stroke="#d051a3" stroke-width="4"/>
<polygon points="0,0 -26,-11.5 -20,0 -26,11.5" fill="#d051a3" transform="translate(515,2960) rotate(-17)"/>
<path d="M438,2950.7 L480,2992.7 M438,2992.7 L480,2950.7" stroke="#63b845" stroke-width="7" stroke-linecap="round" fill="none"/>
</g>
<g id="s6">
<path d="M95,3361.9 L82.45,3361.9 Q69.9,3361.9 69.9,3349.35 L69.9,3159.1 Q69.9,3146.1 82.9,3146.1 L353.5,3146.1 Q366.5,3146.1 366.5,3159.1 L366.5,3239.1 Q366.5,3252.1 379.5,3252.1 L408.5,3252.1" fill="none" stroke="#d051a3" stroke-width="2.7"/>
<path d="M112,3238 L91.75,3205.99 Q84.8,3195 84.8,3182 L84.8,3170.8 Q84.8,3157.8 97.8,3157.8 L343.4,3157.8 Q356.4,3157.8 356.4,3170.8 L356.4,3248.1 Q356.4,3261.1 369.4,3261.1 L408.5,3261.1" fill="none" stroke="#63b845" stroke-width="2.7"/>
<path d="M224,3196 L230.67,3181.16 Q236,3169.3 249,3169.3 L333.1,3169.3 Q346.1,3169.3 346.1,3182.3 L346.1,3257.3 Q346.1,3270.3 359.1,3270.3 L408.5,3270.3" fill="none" stroke="#d051a3" stroke-width="2.7"/>
<path d="M325,3279.3 L408.5,3279.3" fill="none" stroke="#d051a3" stroke-width="2.7"/>
<path d="M299,3402 L307.76,3418 Q314,3429.4 327,3429.4 L329.6,3429.4 Q342.6,3429.4 342.6,3416.4 L342.6,3301.2 Q342.6,3288.2 355.6,3288.2 L408.5,3288.2" fill="none" stroke="#63b845" stroke-width="2.7"/>
<path d="M185,3443 L173.29,3469.32 Q168,3481.2 181,3481.2 L340.4,3481.2 Q353.4,3481.2 353.4,3468.2 L353.4,3309.9 Q353.4,3296.9 366.4,3296.9 L408.5,3296.9" fill="none" stroke="#d051a3" stroke-width="2.7"/>
<g transform="translate(207.3,3320.8) rotate(-30) scale(1.39)"><polygon points="-50,-86.6 50,-86.6 0,0" fill="#fff" /><path d="M-45.09,-78.1 L-36.1,-62.5 Q-5,-78.1 12,-78.1 Z" fill="#e4e3ee"/><g transform="translate(0,-48) rotate(30) scale(1.45)"><path d="M2,10 L6,-8 Q10,-12 12,-6 L10,8 Z" fill="#f5a21c"/><path d="M5,9 L9,-6" stroke="#2d6e3a" stroke-width="1.6"/><path d="M-12,-4 Q-6,-8 -6,-2 Q-6,3 -11,2 Q-6,3 -6,8 Q-8,11 -12,9" fill="none" stroke="#e6399b" stroke-width="1.6"/></g><path d="M-50,-86.6 L50,-86.6 L31.5,-54.6 C30,-68.6 22,-77.1 12,-78.1 L-45.09,-78.1 Z" fill="#63b845"/><polygon points="35.6,-80.1 40.8,-80.1 38.2,-75.5" fill="none" stroke="#fff" stroke-width="0.9" stroke-linejoin="miter"/><polygon points="27.6,-80.1 32.8,-80.1 30.2,-75.5" fill="none" stroke="#fff" stroke-width="0.9" stroke-linejoin="miter"/><polygon points="31.7,-73.3 36.9,-73.3 34.3,-68.7" fill="none" stroke="#fff" stroke-width="0.9" stroke-linejoin="miter"/></g>
<g transform="translate(207.3,3320.8) rotate(30) scale(1.39)"><polygon points="-50,-86.6 50,-86.6 0,0" fill="#fff" /><path d="M-45.09,-78.1 L-36.1,-62.5 Q-5,-78.1 12,-78.1 Z" fill="#e4e3ee"/><g transform="translate(0,-48) rotate(-30) scale(1.45)"><path d="M-10,8 Q-8,-6 2,-9 L5,-14 L8,-8 Q10,0 4,8 Z" fill="#ee7d1c"/><path d="M-14,-8 L14,4" stroke="#222" stroke-width="1"/><circle cx="4" cy="-8" r="2.2" fill="#3a2a1a"/><path d="M-12,6 L-4,10" stroke="#3f6fc8" stroke-width="2.4"/></g><path d="M-50,-86.6 L50,-86.6 L31.5,-54.6 C30,-68.6 22,-77.1 12,-78.1 L-45.09,-78.1 Z" fill="#d051a3"/><polygon points="35.6,-80.1 40.8,-80.1 38.2,-75.5" fill="none" stroke="#fff" stroke-width="0.9" stroke-linejoin="miter"/><polygon points="27.6,-80.1 32.8,-80.1 30.2,-75.5" fill="none" stroke="#fff" stroke-width="0.9" stroke-linejoin="miter"/><polygon points="31.7,-73.3 36.9,-73.3 34.3,-68.7" fill="none" stroke="#fff" stroke-width="0.9" stroke-linejoin="miter"/></g>
<g transform="translate(207.3,3320.8) rotate(90) scale(1.39)"><polygon points="-50,-86.6 50,-86.6 0,0" fill="#fff" /><path d="M-45.09,-78.1 L-36.1,-62.5 Q-5,-78.1 12,-78.1 Z" fill="#e4e3ee"/><g transform="translate(0,-48) rotate(-90) scale(1.45)"><path d="M-12,-6 L4,-9 L13,-3 L2,11 L-10,5 Z" fill="#6b5a14"/><path d="M-12,-6 L-13,6 L-8,7 L-6,-7 Z" fill="#3f9fd8"/><path d="M4,-9 L13,-3 L10,-1 L2,-6 Z" fill="#d9c85a"/><path d="M-14,-8 L-11,-4 M-15,6 L-12,4" stroke="#3f9fd8" stroke-width="1.2"/></g><path d="M-50,-86.6 L50,-86.6 L31.5,-54.6 C30,-68.6 22,-77.1 12,-78.1 L-45.09,-78.1 Z" fill="#d051a3"/><polygon points="35.6,-80.1 40.8,-80.1 38.2,-75.5" fill="none" stroke="#fff" stroke-width="0.9" stroke-linejoin="miter"/><polygon points="27.6,-80.1 32.8,-80.1 30.2,-75.5" fill="none" stroke="#fff" stroke-width="0.9" stroke-linejoin="miter"/><polygon points="31.7,-73.3 36.9,-73.3 34.3,-68.7" fill="none" stroke="#fff" stroke-width="0.9" stroke-linejoin="miter"/></g>
<g transform="translate(207.3,3320.8) rotate(150) scale(1.39)"><polygon points="-50,-86.6 50,-86.6 0,0" fill="#fff" /><path d="M-45.09,-78.1 L-36.1,-62.5 Q-5,-78.1 12,-78.1 Z" fill="#e4e3ee"/><g transform="translate(0,-48) rotate(-150) scale(1.45)"><path d="M-10,-12 L10,2" stroke="#6dbb45" stroke-width="4" stroke-dasharray="1.3 1.7" fill="none"/><path d="M-10,-12 L10,2" stroke="#c9d84a" stroke-width="2" stroke-dasharray="1.3 1.7" stroke-dashoffset="1.5" fill="none"/><path d="M-10,-12 L10,2" stroke="#6a4a2a" stroke-width="0.5" fill="none"/><path d="M-5,-6 L-6,12" stroke="#6dbb45" stroke-width="4" stroke-dasharray="1.3 1.7" fill="none"/><path d="M-5,-6 L-6,12" stroke="#c9d84a" stroke-width="2" stroke-dasharray="1.3 1.7" stroke-dashoffset="1.5" fill="none"/><path d="M-5,-6 L-6,12" stroke="#6a4a2a" stroke-width="0.5" fill="none"/><path d="M3,-2 L4,12" stroke="#6dbb45" stroke-width="4" stroke-dasharray="1.3 1.7" fill="none"/><path d="M3,-2 L4,12" stroke="#c9d84a" stroke-width="2" stroke-dasharray="1.3 1.7" stroke-dashoffset="1.5" fill="none"/><path d="M3,-2 L4,12" stroke="#6a4a2a" stroke-width="0.5" fill="none"/></g><path d="M-50,-86.6 L50,-86.6 L31.5,-54.6 C30,-68.6 22,-77.1 12,-78.1 L-45.09,-78.1 Z" fill="#63b845"/><polygon points="35.6,-80.1 40.8,-80.1 38.2,-75.5" fill="none" stroke="#fff" stroke-width="0.9" stroke-linejoin="miter"/><polygon points="27.6,-80.1 32.8,-80.1 30.2,-75.5" fill="none" stroke="#fff" stroke-width="0.9" stroke-linejoin="miter"/><polygon points="31.7,-73.3 36.9,-73.3 34.3,-68.7" fill="none" stroke="#fff" stroke-width="0.9" stroke-linejoin="miter"/></g>
<g transform="translate(207.3,3320.8) rotate(210) scale(1.39)"><polygon points="-50,-86.6 50,-86.6 0,0" fill="#fff" /><path d="M-45.09,-78.1 L-36.1,-62.5 Q-5,-78.1 12,-78.1 Z" fill="#e4e3ee"/><g transform="translate(0,-48) rotate(-190) scale(1.45)"><ellipse cx="0.5" cy="4" rx="10" ry="1.6" fill="#e2e0dc"/><path d="M-10,-3 Q-10,-6 -6,-5 L4,-3 Q10,-2 10,1.5 Q10,4 6,4 L-6,3 Q-10,2 -10,-3 Z" fill="#d153a5"/><path d="M-7,-2 L-2,-1 L-2,1.5 L-7,0.5 Z M0,-0.5 L6,0.5 M2,-1.5 L5,2.5" fill="#fff" stroke="#fff" stroke-width="0.8"/></g><path d="M-50,-86.6 L50,-86.6 L31.5,-54.6 C30,-68.6 22,-77.1 12,-78.1 L-45.09,-78.1 Z" fill="#d051a3"/><polygon points="35.6,-80.1 40.8,-80.1 38.2,-75.5" fill="none" stroke="#fff" stroke-width="0.9" stroke-linejoin="miter"/><polygon points="27.6,-80.1 32.8,-80.1 30.2,-75.5" fill="none" stroke="#fff" stroke-width="0.9" stroke-linejoin="miter"/><polygon points="31.7,-73.3 36.9,-73.3 34.3,-68.7" fill="none" stroke="#fff" stroke-width="0.9" stroke-linejoin="miter"/></g>
<g transform="translate(207.3,3320.8) rotate(270) scale(1.39)"><polygon points="-50,-86.6 50,-86.6 0,0" fill="#fff" /><path d="M-45.09,-78.1 L-36.1,-62.5 Q-5,-78.1 12,-78.1 Z" fill="#e4e3ee"/><g transform="translate(0,-48) rotate(-65) scale(1.45)"><g transform="rotate(-28)"><path d="M-15,-7 L13,-7" stroke="#333" stroke-width="0.6"/><rect x="6" y="-3" width="9" height="9" rx="2" fill="#e9a43b"/><rect x="-10" y="-5.5" width="21" height="12" rx="6" fill="#c8243f"/><circle cx="9" cy="-1.5" r="2.8" fill="#1d1416"/><rect x="-13.5" y="-3" width="3.5" height="3" fill="#2a9fc0"/><rect x="-13.5" y="2" width="3.5" height="3" fill="#2a9fc0"/><ellipse cx="-2" cy="8" rx="13" ry="1.5" fill="#e2e0dc"/></g></g><path d="M-50,-86.6 L50,-86.6 L31.5,-54.6 C30,-68.6 22,-77.1 12,-78.1 L-45.09,-78.1 Z" fill="#d051a3"/><polygon points="35.6,-80.1 40.8,-80.1 38.2,-75.5" fill="none" stroke="#fff" stroke-width="0.9" stroke-linejoin="miter"/><polygon points="27.6,-80.1 32.8,-80.1 30.2,-75.5" fill="none" stroke="#fff" stroke-width="0.9" stroke-linejoin="miter"/><polygon points="31.7,-73.3 36.9,-73.3 34.3,-68.7" fill="none" stroke="#fff" stroke-width="0.9" stroke-linejoin="miter"/></g>
<path d="M207.3,3320.8 L207.3,3197.79 M207.3,3320.8 L313.83,3259.29 M207.3,3320.8 L313.83,3382.31 M207.3,3320.8 L207.3,3443.82 M207.3,3320.8 L100.77,3382.31 M207.3,3320.8 L100.77,3259.29 " stroke="#3a3a3a" stroke-width="0.6" fill="none"/>
<polygon points="185.9,3312 205.5,3312 195.7,3295.5" fill="#63b845" />
<polygon points="205.5,3325.5 205.5,3344.5 188.5,3335" fill="#d051a3" />
<circle cx="119.7" cy="3246.8" r="23.4" fill="#63b845" stroke="#fff" stroke-width="1.3"/><circle cx="119.7" cy="3246.8" r="15.9" fill="#e4e3ee" stroke="#fff" stroke-width="1.5"/><text transform="translate(119.7,3246.8) rotate(-30)" x="0" y="7.3" font-size="21" text-anchor="middle" fill="#231f20" stroke="#231f20" stroke-width="0.6">−2</text>
<circle cx="222.8" cy="3207.8" r="23.4" fill="#d051a3" stroke="#fff" stroke-width="1.3"/><circle cx="222.8" cy="3207.8" r="15.9" fill="#e4e3ee" stroke="#fff" stroke-width="1.5"/><text transform="translate(222.8,3207.8) rotate(30)" x="0" y="7.3" font-size="21" text-anchor="middle" fill="#231f20" stroke="#231f20" stroke-width="0.6">3</text>
<circle cx="310.7" cy="3283.7" r="23.4" fill="#d051a3" stroke="#fff" stroke-width="1.3"/><circle cx="310.7" cy="3283.7" r="15.9" fill="#e4e3ee" stroke="#fff" stroke-width="1.5"/><text transform="translate(310.7,3283.7) rotate(90)" x="0" y="7.3" font-size="21" text-anchor="middle" fill="#231f20" stroke="#231f20" stroke-width="0.6">−2</text>
<circle cx="293.1" cy="3390" r="23.4" fill="#63b845" stroke="#fff" stroke-width="1.3"/><circle cx="293.1" cy="3390" r="15.9" fill="#e4e3ee" stroke="#fff" stroke-width="1.5"/><text transform="translate(293.1,3390) rotate(150)" x="0" y="7.3" font-size="21" text-anchor="middle" fill="#231f20" stroke="#231f20" stroke-width="0.6">−3</text>
<circle cx="192.1" cy="3430" r="23.4" fill="#d051a3" stroke="#fff" stroke-width="1.3"/><circle cx="192.1" cy="3430" r="15.9" fill="#e4e3ee" stroke="#fff" stroke-width="1.5"/><text transform="translate(192.1,3430) rotate(210)" x="0" y="7.3" font-size="21" text-anchor="middle" fill="#231f20" stroke="#231f20" stroke-width="0.6">1</text>
<circle cx="103.4" cy="3361.9" r="23.4" fill="#d051a3" stroke="#fff" stroke-width="1.3"/><circle cx="103.4" cy="3361.9" r="15.9" fill="#e4e3ee" stroke="#fff" stroke-width="1.5"/><text transform="translate(103.4,3361.9) rotate(270)" x="0" y="7.3" font-size="21" text-anchor="middle" fill="#231f20" stroke="#231f20" stroke-width="0.6">1</text>
<path d="M437,3216.3 L418.4,3216.3 Q409.4,3216.3 409.4,3225.3 L409.4,3324 Q409.4,3333 418.4,3333 L437,3333" fill="none" stroke="#000" stroke-width="3"/>
<text x="448.3" y="3190.5" font-size="29.7" fill="#000" textLength="149.5" lengthAdjust="spacingAndGlyphs">Life points</text>
<rect x="436.6" y="3197" width="264.6" height="42.3" rx="9" fill="#fff" stroke="#63b845" stroke-width="2.6"/>
<text x="444.8" y="3229.6" font-size="30" fill="#63b845" textLength="240" lengthAdjust="spacingAndGlyphs">1+1-3-2+3-2 = -2</text>
<text x="713.4" y="3229.6" font-size="30" fill="#63b845" textLength="207.6" lengthAdjust="spacingAndGlyphs">= 1 game point</text>
<text x="448.8" y="3316.7" font-size="29.7" fill="#000" textLength="84" lengthAdjust="spacingAndGlyphs">Cards</text>
<rect x="436.6" y="3321.6" width="144.1" height="77.3" rx="9" fill="#fff" stroke="#d051a3" stroke-width="2.6"/>
<text x="447.2" y="3355.7" font-size="30" fill="#d051a3" textLength="95.3" lengthAdjust="spacingAndGlyphs">Red: 4</text>
<text x="447.2" y="3388.3" font-size="30" fill="#63b845" textLength="119.8" lengthAdjust="spacingAndGlyphs">Green: 2</text>
<text x="593" y="3370.4" font-size="30" fill="#d051a3" textLength="210" lengthAdjust="spacingAndGlyphs">= 1 game point</text>
</g>
</svg>
</body></html>
